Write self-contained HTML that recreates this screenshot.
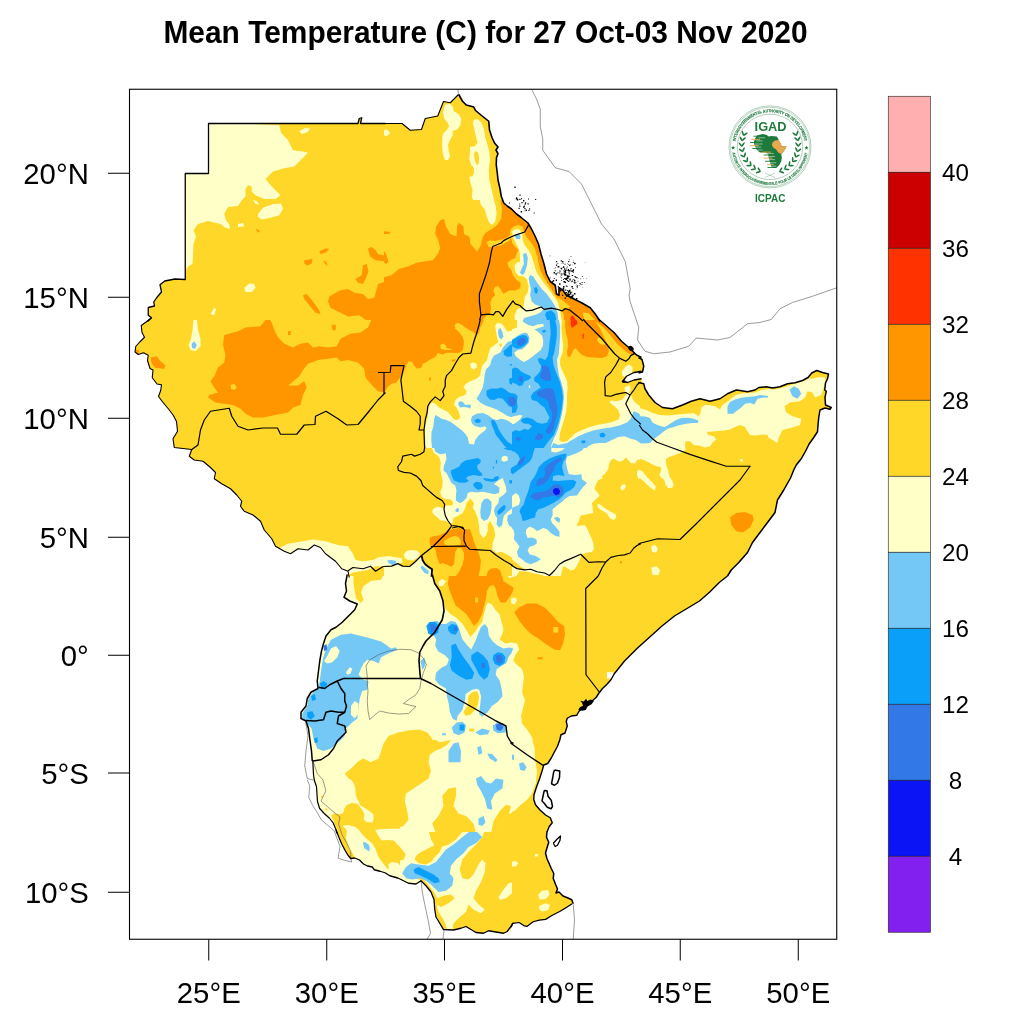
<!DOCTYPE html>
<html><head><meta charset="utf-8"><title>Mean Temperature</title>
<style>
html,body{margin:0;padding:0;background:#fff;}
svg{display:block;font-family:"Liberation Sans",sans-serif;will-change:transform;}
</style></head><body>
<svg width="1024" height="1024" viewBox="0 0 1024 1024">
<rect width="1024" height="1024" fill="#fff"/>
<text x="163.4" y="43.4" textLength="644.2" lengthAdjust="spacingAndGlyphs" font-size="30.6" font-weight="bold" fill="#000">Mean Temperature (C) for 27 Oct-03 Nov 2020</text>
<defs><clipPath id="land"><polygon points="385.5,123.5 360.5,123.5 361.75,117.75 359.25,118.5 358,123.5 208.5,123.5 208.5,173.5 185.25,173.5 185.25,279.5 175,279 164.75,281 160,284.75 161.5,292 157,297.25 153.75,302 154.5,306 148.25,307.5 148.25,315.25 151.5,317.75 147.5,321.5 385.5,321.5"/><polygon points="382.5,123.5 402,123.5 410.25,130.25 421.5,129.5 425.25,118.5 437.75,116 443.5,101.5 450.25,102.75 458.75,94.5 462.5,101.25 466.25,105 473.75,107 475.5,110.5 482.5,116.25 488.75,121.25 489.5,130 492,137.5 494.5,143 498,147 496,150 498,153.75 496.5,157.5 496.25,165 497.25,172.5 498,180 500,188.75 501.25,196.25 503.75,203 507.5,206.25 511.5,209 516.5,214 521.5,217.75 527.75,222.75 531.5,229 535.25,236.5 538.5,244 541,254 544,264 546.5,274 550.25,281.5 555.25,285.25 556.5,294 559,295.25 559,287.75 562.75,290.25 566.5,295.25 574,299 581.5,302.75 590.25,307.75 595.25,314 600.25,321.5 382.5,321.5"/><polygon points="151.5,317.75 146.75,321.5 141.25,325.5 142,332.5 144.5,337.25 139.75,342 135.75,346.5 135,352 138.25,354.5 143.5,352.75 148.25,355.25 147.5,360.5 150,368.5 153,370 152.25,377.75 157,384 161.5,384.75 160.75,390.25 158.5,396.5 163.25,402.75 168.5,409 173.25,415.25 176.5,421.5 177.5,431.25 173,438.75 174.25,447.5 191.75,449.5 189.25,456.25 194.25,460 203,461.25 210.5,467.5 215.5,472.5 214.25,478.75 221.75,483.75 230.5,488.75 236.75,495 241.75,501.25 240.5,506.25 244.25,511.25 253,515 260.5,521.25 264.25,530 271.75,538.75 275.5,546.25 284.25,551.25 290.5,553.75 298,548.75 308,550 314.25,545 320.5,547.5 325.5,553.75 335.5,561.25 341.75,568.75 348,571.25 349.25,577.5 385.5,577.5 385.5,318.5"/><polygon points="597.75,318.5 604,323.75 614,332.5 621.5,341.25 630.25,348.75 636.5,355 641.5,357.5 641.5,371.25 634,372.5 626.5,376.25 622.75,381.25 627.75,382.5 634,380 641.5,378.75 641.5,577.5 382.5,577.5 382.5,318.5"/><polygon points="638.5,357.5 642,359.5 643.75,366.25 642.5,372 638.5,373"/><polygon points="638.5,382.5 643.75,383.75 645,388.75 648.75,395 655,402.5 662.5,407.5 672.5,408.75 682.5,405 691.25,401.25 700,398.75 710,401.25 720,398.75 727.5,393.75 736.25,390 740,390.5 747.5,391.75 755,390 758.75,387.5 766.25,386.75 772.5,388 780,386.75 787.5,383.75 795,382.75 802.5,380.5 808,377.5 811.75,373 816.75,370.5 822.5,372.5 828.5,374 827.5,378.75 825.5,383 824.75,390 826.25,391.25 825,397.5 825.5,405 831.25,407.5 830,409.25 825,408 820,410 818.75,417.5 818,425 817.5,431.75 813.75,437.5 809.25,443.75 805.5,451.25 801.25,458.75 796.25,465 793.75,470 790.5,478 783.75,490 777.5,500 775,512.5 767.5,522.5 760,532.5 752.5,542.5 747.5,552.5 738.75,562.5 731.25,570 727.5,576 638.5,577.5"/><polygon points="347.25,574.5 345.5,583.5 346.5,591 344,597.25 349.75,601 357.25,604 354.75,609.75 348.5,616 342.25,622.25 336,627.25 331,629.75 326,636 323.5,643.5 321.5,651 319.75,661 318.5,671 317.25,681 318,688.5 311,692.25 307.25,698.5 306,706 301,712.25 301,718.5 306,721 308.5,728.5 309.75,738.5 311.5,751 312.75,760.25 313.5,774.5 314.25,780 316.5,786.75 317,794.5 317.5,801.5 319.5,808.25 324.5,813.75 329.25,818 333.25,823 336,829.75 337,833.5 513.5,833.5 513.5,574.5"/><polygon points="727.5,576 719.5,582.25 709.5,592.25 699.5,601 687,608.5 674.5,616 662,626 649.5,637.25 637,648.5 624.5,661 614.5,673.5 610.75,680 606.5,684.75 602.5,688.5 599,693 596.25,697.25 593,700.25 587,704.75 579,711.25 576.75,715.25 571.25,716 567.25,718.25 566.25,721.5 567.25,726 565,733 561,734.75 559.75,740 557.5,746.25 554.5,751.75 551.25,758 547.75,763.5 543.75,765 542,771.25 539.5,779 536.5,787 534,794.75 533.75,799.5 535.5,804.75 540,810 545.5,815 550.25,817.75 552.25,822.75 549.25,826.5 547,832 510.5,833.5 510.5,574.5"/><polygon points="336,829.75 339,837.5 342,844.5 345,850.25 348,855.25 350.75,858.5 354.75,858 359.5,860 363.5,864 367.5,866 372.25,867 374.25,869.75 380,871.25 385,872.75 389.75,875.75 397.75,878 401,879.5 408.5,883.25 416,884 421,880.75 426,885.75 431,892 434,899.5 434.75,909.5 436,917 439.75,923.25 443.5,929.5 453.5,930 461,928.25 466,926.5 471,929.5 476,932.5 483.5,933.25 488.5,930.75 496,932 503.5,933.25 507.25,931.5 510.5,927 512.5,923.5 513.5,923 513.5,830.5"/><polygon points="547,831.5 546.5,837.25 548.75,842.25 547.25,847 545.5,853 547,858.75 549.25,863.75 551.25,868.5 553.75,873.5 553.25,878.5 555.5,884.25 557.5,889 556,893 559,892 563,896 568,898 571.75,899.75 573.25,903.75 572.19,903.75 565.94,907.66 559.69,911.56 551.88,915.47 545.62,919.38 539.38,920.16 533.12,921.72 526.88,926.41 523.75,925.62 519.06,922.5 512.81,923.28 511.25,927.19 510.5,932 510.5,830.5"/></clipPath><clipPath id="t0"><rect x="128" y="64" width="256" height="256"/></clipPath><clipPath id="t1"><rect x="384" y="64" width="256" height="256"/></clipPath><clipPath id="t2"><rect x="600" y="220" width="256" height="256"/></clipPath><clipPath id="t3"><rect x="128" y="320" width="256" height="256"/></clipPath><clipPath id="t4"><rect x="384" y="320" width="256" height="256"/></clipPath><clipPath id="t5"><rect x="640" y="320" width="256" height="256"/></clipPath><clipPath id="t6"><rect x="256" y="576" width="256" height="256"/></clipPath><clipPath id="t7"><rect x="512" y="576" width="256" height="256"/></clipPath><clipPath id="t8"><rect x="540" y="680" width="80" height="80"/></clipPath><clipPath id="t9"><rect x="580" y="300" width="128" height="128"/></clipPath><clipPath id="t10"><rect x="256" y="832" width="256" height="192"/></clipPath><clipPath id="t11"><rect x="430" y="860" width="160" height="160"/></clipPath><clipPath id="t12"><rect x="512" y="832" width="256" height="192"/></clipPath><clipPath id="t13"><rect x="300" y="780" width="100" height="100"/></clipPath><clipPath id="t14"><rect x="470" y="200" width="160" height="160"/></clipPath><clipPath id="t15"><rect x="384" y="320" width="128" height="128"/></clipPath><clipPath id="t16"><rect x="512" y="320" width="128" height="128"/></clipPath><clipPath id="t17"><rect x="384" y="448" width="128" height="128"/></clipPath><clipPath id="t18"><rect x="512" y="448" width="128" height="128"/></clipPath><clipPath id="t19"><rect x="640" y="370" width="128" height="128"/></clipPath><clipPath id="t20"><rect x="400" y="576" width="200" height="164"/></clipPath><clipPath id="t21"><rect x="300" y="780" width="100" height="100"/></clipPath><clipPath id="t22"><rect x="710" y="90" width="128" height="128"/></clipPath><clipPath id="frame"><rect x="129.5" y="89.25" width="707.25" height="850"/></clipPath></defs>
<g clip-path="url(#frame)">
<g clip-path="url(#land)">
<rect x="129" y="89" width="708" height="851" fill="#FFD728"/>
<g clip-path="url(#t0)">
<polygon fill="#FFFFC8" points="203,121.5 279.25,125.25 281,132.75 288,140.25 293,150.25 303,151.5 308,152.75 300.5,160.25 294.25,166.5 283,168.5 273,171.5 265.5,179 271.75,186.5 280.5,195.25 275.5,199 264.25,199 255.5,195.25 251.75,191.5 251.75,186.5 248,185.25 245.5,189 245.5,196.5 241.75,200.25 238,206 228,207 224.25,214 226,220.25 229.25,224 230,229 225.5,227.75 220.5,224 208,221 198,224 193.5,230.25 196,236.5 193.5,244 193,256.5 192.5,264 188,266.5 185.25,271.5 183,271.5 183,121.5"/>
<polygon fill="#FFFFC8" points="258,214 263,207.75 273,204 281,203.5 283,209 279.25,215.25 270.5,217.75 261.75,219.5 258,217"/>
<polygon fill="#FFFFC8" points="299.25,131 305.5,128 310,128.5 308,132 301.75,134"/>
<polygon fill="#FFFFC8" points="238,224 243,223 244.25,226.5 238,227"/>
<polygon fill="#FFFFC8" points="253,200.25 256.75,201 259.25,204.5 255.5,204"/>
<polygon fill="#FFFFC8" points="244.25,287.75 249.25,283.5 254.25,284 255.5,287.75 251.75,292 245.5,292"/>
<polygon fill="#FFFFC8" points="210.5,314 214.25,307.75 216,309 214.25,315.25"/>
<polygon fill="#FF9600" points="255.5,228.5 260,231 258,232.75"/>
<polygon fill="#FF9600" points="304.25,260.25 312.5,259 311.75,263.5 307.5,265.5 304.25,263.5"/>
<polygon fill="#FF9600" points="319.25,251.5 325.5,248.5 329.25,249 325.5,252.75 320.5,254"/>
<polygon fill="#FF9600" points="323.5,260.25 326,261.5 327.5,266 325,264"/>
<polygon fill="#FF9600" points="368,248.5 371.75,247 375.5,250.25 378,254 385.5,256 385.5,261.5 375.5,260.25 370,256.5"/>
<polygon fill="#FF9600" points="363,265.25 366.75,264 368.5,271.5 365.5,279 363,284 358,282.75 355.5,279 361.75,275.25"/>
<polygon fill="#FF9600" points="303,295.25 306.75,294 313,301.5 319.25,310.25 320.5,314 315.5,312.75 309.25,305.25 304.25,299"/>
<polygon fill="#FF9600" points="329.25,296.5 340.5,290.25 348,289 354.25,292.75 363,294 368,299 374.25,297.75 378,284 385.5,281.5 385.5,321.5 368,321.5 359.25,315.25 348,316.5 338,311.5 330.5,307.75 328,301.5"/>
</g>
<g clip-path="url(#t1)">
<polygon fill="#FFFFC8" points="443,112.5 445,105 450,103.75 453,106.75 453.75,111.25 458.75,114.25 461.25,118.75 460.5,125 457.5,129.25 452.5,131.25 453,135 450,140 448,145 448.75,151.25 450,156.25 448,160 445,160 443,155 442.25,147.5 442.25,138.75 443,133.75 446.75,130 449.25,126.25 447.5,122.5 444.25,118.75"/>
<polygon fill="#FFFFC8" points="473.75,120 477.5,119 481.25,122.5 483.75,128.75 485,136.25 487.5,145 489.25,151.25 490,160 488.75,170 489.25,180 491.75,190 493.75,198.75 495.5,208 498.5,211.5 497.75,216.5 494,224 489,222.75 487,214 482.75,209 478.75,208 475,202.5 471.75,197.5 472.5,190 470.5,182.5 469.25,176.75 472.5,176.25 474.25,172.5 473.75,167.5 471.25,165 469.25,158.75 470,152.5 470,146.75 475,146.25 477.5,142.5 475.5,135 474.25,128.75 473,123.75"/>
<polygon fill="#FFD728" points="474,153.75 475.5,151 478,152.5 479,157.5 478.75,163.75 476.75,165 475,161.25"/>
<polygon fill="#FFFFC8" points="382.5,130.25 387,129.5 390.25,132.75 387,136 382.5,135.25"/>
<polygon fill="#FF9600" points="382.5,277.75 391.5,275.25 399,269 407.75,266.5 416.5,262.75 424,261.5 432.75,260.25 437.75,254 440.25,247.75 437.75,239 435.25,234 436,226.5 440.25,220.25 444,219 446,226.5 450.25,234 456.5,236.5 457,226.5 459,222.75 463.5,226.5 464,234 469,236.5 472.75,244 476.5,251.5 480.25,244 481.5,237.75 491.5,229 500.25,221.5 501.5,214 502.75,205.25 514,204 559,239 609,321.5 382.5,321.5"/>
<polygon fill="#FF9600" points="382.5,231 390.25,232 389,234 382.5,234"/>
<polygon fill="#FF9600" points="382.5,248.5 386,254 388.5,261.5 386.5,264 382.5,261.5"/>
</g>
<g clip-path="url(#t3)">
<polygon fill="#FF9600" points="269.25,318.5 271.75,322.5 274.25,330 278,337.5 284.25,343.75 293,347.5 300.5,343.75 308,342.5 313,347.5 319.25,346.25 328,347.5 336.75,346.25 340.5,338.75 350.5,333.75 360.5,332.5 368,327.5 371.75,318.5 385.5,318.5 385.5,392.5 378,391.25 371.75,385 365.5,377.5 364.25,368.75 358,362.5 348,360 340.5,361.25 336.75,357.5 328,358.75 318,360 308,363.75 303,370 299.25,376.25 291.75,382.5 288,385.5 298,385.5 304.25,381.25 306.75,387.5 303,395 300.5,405 293,407.5 288,412.5 275.5,415 263,417.5 253,417.5 245.5,413.75 240.5,408.75 233,405 224.25,403.75 215.5,402.5 208,397.5 209.25,395 218,392.5 214.25,387.5 210.5,381.25 214.25,376.25 218,367.5 224.25,362.5 225.5,355 223,345 224.25,335 238,331.25 245.5,327.5 260.5,326.25 266.75,318.5"/>
<polygon fill="#FFD728" points="230.5,385 234.25,383.75 236.75,387.5 234.25,390 231,388.75"/>
<polygon fill="#FF9600" points="331.75,325 335.5,324.5 336,329.5 332.5,330.5"/>
<polygon fill="#FF9600" points="288,331.25 291,331.25 290.5,335 288,335"/>
<polygon fill="#FF9600" points="150.5,357.5 156.75,356.25 160.5,361.25 165.5,365.5 164.25,368.75 155.5,368 151.75,363.75"/>
<polygon fill="#FF9600" points="135,349 139.25,350.5 138.5,354 135.5,353.5"/>
<polygon fill="#FFFFC8" points="193.5,318.5 196.75,318.5 198,330 200.5,338.75 200.5,346.25 195.5,351.25 190.5,350 188.5,345 191,338.75 192.5,330"/>
<polygon fill="#73C8F5" points="191.75,343.75 194.25,341.25 196.75,345 195,348.75 192,348"/>
<polygon fill="#FFFFC8" points="278,548.75 288,543.75 303,541.25 313,539.5 325.5,541.25 338,545 348,546.25 353,553.75 355.5,560 363,561.25 373,560 378,557.5 385.5,556.25 385.5,566.25 375.5,566.25 368,570 353,572.5 345.5,577.5 278,577.5"/>
</g>
<g clip-path="url(#t5)">
<polygon fill="#FFFFC8" points="766.25,388.75 775,389.5 785,387 795,383.75 805,380.75 812.5,376.25 816.25,373.75 823.75,375.5 825.5,380 823.75,387.5 821.25,395 815,397.5 812.5,392.5 807.5,391.25 805,397.5 800,401.25 790,402.5 784.5,406.25 786.25,412.5 792.5,416.25 801.25,418.75 800,425 792.5,427.5 782.5,430 778.75,437.5 777.5,443 772.5,440 766.25,436.25"/>
<polygon fill="#73C8F5" points="789.5,390 793.75,386.25 798.75,388.75 801.25,393.75 797.5,398.75 792.5,396.25"/>
<polygon fill="#FFFFC8" points="651.25,546.25 655,545 658,548.75 656.25,552.5 652,552"/>
<polygon fill="#FFFFC8" points="651.25,567.5 656.25,566.25 660,570 658.75,575 652.5,575"/>
<polygon fill="#FF9600" points="730,517.5 736.25,513 745,512 752.5,515 753.75,520 750,527.5 742.5,532.5 736.25,531.25 731.25,525"/>
<polygon fill="#FFD728" points="808.75,377 812.5,373 817.5,371 828.75,374 828,378 820,377 815,378 811.25,379"/>
</g>
<g clip-path="url(#t6)">
<polygon fill="#FFFFC8" points="254.5,574.5 513.5,574.5 513.5,833.5 254.5,833.5"/>
<polygon fill="#FFD728" points="353.5,574.5 383.5,574.5 381,579.75 371,581 363.5,586 361,592.25 363.5,599.75 361,603 356,598.5 354.75,591 353.5,583.5"/>
<polygon fill="#FFD728" points="434.75,574.5 513.5,574.5 513.5,643.5 506,644.75 502.25,638.5 503.5,628.5 496,621 491,613.5 486,611 482.25,618.5 484.75,626 478.5,624.75 473.5,632.25 468.5,637.25 463.5,631 458.5,623.5 453.5,619.75 448.5,613.5 446,608.5 443.5,601 441,591 436,583.5"/>
<polygon fill="#FFFFC8" points="439.75,579.75 444.75,579 446.5,584 442.25,586.5"/>
<polygon fill="#FF9600" points="449.75,574.5 513.5,574.5 513.5,594.75 506,601 499.75,599.75 496,593.5 491,591 486,597.25 483.5,606 479.75,616 476,624.75 471,621 467.25,613.5 461,608.5 456,601 453.5,593.5 448.5,586"/>
<polygon fill="#FFD728" points="344.75,773.5 351,768.5 358.5,761 363.5,758.5 371,762.25 378.5,758.5 381,751 383.5,743.5 388.5,736 398.5,732.25 411,731 421,729.75 428.5,732.25 433.5,738.5 439.75,742.25 446,741 451,739.75 447.25,744.75 441,748.5 434.75,751 429.75,754.75 428.5,762.25 431,771 428.5,778.5 421,783.5 413.5,788.5 406,793.5 404.75,801 407.25,811 408.5,819.75 403.5,826 396,828.5 388.5,827.25 381,826 376,831 373.5,822.25 373.5,811 368.5,803.5 361,797.25 356,789.75 354.75,782.25 348.5,778.5"/>
<polygon fill="#FFD728" points="338.5,833.5 342.25,823.5 347.25,816 344,809.75 348.5,804.75 356,804 363.5,809.75 369.75,816 373.5,822.25 371,828.5 373.5,833.5"/>
<polygon fill="#FFD728" points="436,833.5 432.25,823.5 438.5,816 443.5,806 442.25,796 448.5,788.5 456,787.25 456,796 453.5,806 458.5,813.5 466,816 473.5,823.5 476,833.5"/>
<polygon fill="#FFD728" points="491,833.5 493.5,821 499.75,811 506,804.75 511,806 508.5,816 503.5,826 501,833.5"/>
<polygon fill="#FFD728" points="467.25,696 473.5,691 478.5,693.5 478.5,703.5 473.5,711 468.5,716 462.25,716 463.5,708.5 467.25,703.5"/>
<polygon fill="#73C8F5" points="319.75,681 321,671 323,658.5 326,648.5 331,639.75 341,634.75 351,633.5 361,636 371,638.5 381,641.5 386,644.75 391,648.5 396,647.25 397.25,649.75 388.5,653.5 381,657.25 378.5,663.5 373.5,661 367.25,659.75 363.5,663.5 361,668.5 358.5,674.75 363.5,679.75 368.5,681 367.25,689.75 362.25,691 359.75,698.5 358.5,708.5 357.25,718.5 351,723.5 346,728.5 344.75,736 338.5,742.25 331,748.5 323.5,751 317.25,748.5 313.5,738.5 311.5,728.5 307.25,723.5 302.25,718.5 302.25,713.5 307.25,706 308.5,698.5 313.5,692.25 318.5,688.5"/>
<polygon fill="#FFFFC8" points="327.25,656 331,648.5 336,646 339.75,651 337.25,657.25 332.25,662.25 327.25,663.5 324,661"/>
<polygon fill="#FFFFC8" points="346,672.25 349.75,667.25 352.25,668.5 350.5,673.5 347.25,674.75"/>
<polygon fill="#FFFFC8" points="351,706 354.75,701 358.5,703.5 358.5,713.5 354.75,718.5 351,714.75"/>
<polygon fill="#0AA0FA" points="319.75,683.5 323.5,681 327.25,683.5 326,688.5 321.5,689"/>
<polygon fill="#0AA0FA" points="311,696 314.75,694 316,699.75 312.25,701"/>
<polygon fill="#0AA0FA" points="307.25,712.25 312.25,711 314.75,716 311,719.75 307.25,717.25"/>
<polygon fill="#0AA0FA" points="314,738.5 317.25,737.25 318,742.25 314.75,743"/>
<polygon fill="#3278E6" points="323.5,646 326.5,644 327.25,649.75 324,651"/>
<polygon fill="#73C8F5" points="428.5,624.75 436,621 443.5,624.75 451,622.25 458.5,624.75 463.5,632.25 468.5,638.5 474.75,634.75 479.75,627.25 484.75,624.75 488.5,629.75 489.75,638.5 496,644.75 503.5,648.5 507.25,656 506,663.5 499.75,667.25 496,673.5 499.75,681 503.5,688.5 502.25,698.5 497.25,703.5 492.25,708.5 486,716 479.75,718.5 479.75,703.5 478.5,692.25 472.25,689.75 467.25,696 463.5,706 461,714.75 456,721 451,718.5 448.5,711 449.75,701 446,693.5 441,688.5 436,681 434.75,672.25 439.75,666 448.5,663.5 449.75,656 446,648.5 439.75,642.25 434.75,637.25 431,632.25"/>
<polygon fill="#FFFFC8" points="464.75,701 468.5,693.5 474,689 479.75,691.5 481,703.5 476,713.5 469.75,719 462.25,719 461.5,711"/>
<polygon fill="#FFD728" points="467.25,696 473.5,691.5 478,694 478,703.5 473.5,711 468.5,716 463.5,716 464,708.5 467.25,703.5"/>
<polygon fill="#0AA0FA" points="449.75,644.75 454.75,643.5 461,651 467.25,658.5 473.5,668.5 474.75,676 469.75,679.75 462.25,676 454.75,672.25 449.75,667.25 451,658.5"/>
<polygon fill="#0AA0FA" points="471,656 477.25,651 483.5,653.5 489.75,659.75 488.5,668.5 486,676 481,677.25 476,671 472.25,663.5"/>
<polygon fill="#3278E6" points="481,662.25 484.75,662.25 484.75,667.25 481,667.25"/>
<polygon fill="#0AA0FA" points="493.5,656 497.25,652.25 502.25,653 505.5,657.25 503.5,663 498.5,664.75 494,662.25"/>
<polygon fill="#3278E6" points="496,657.25 499.75,654.75 503,658 501,662.25 497.25,662.25"/>
<polygon fill="#0AA0FA" points="427.25,624.75 431,621.75 437.25,622.25 439.75,627.25 436,633.5 431,636 427.25,632.25"/>
<polygon fill="#3278E6" points="432.25,626 436.5,624.75 438,629 434,631.5"/>
<polygon fill="#0AA0FA" points="448.5,626 453.5,623.5 458,627.25 456,633.5 451,634.75 448.5,631"/>
<polygon fill="#3278E6" points="452.25,627.25 456,627.25 456,631 452.25,631"/>
<polygon fill="#73C8F5" points="453.5,726 458.5,722.25 464.75,723.5 466,729.75 461,734.75 454.75,734.75 451,731"/>
<polygon fill="#0AA0FA" points="459,725.5 463.5,725.5 463.5,729.75 459,729.75"/>
<polygon fill="#73C8F5" points="492.25,726 496,722.25 503.5,723.5 506,728.5 501,733.5 493.5,732.25"/>
<polygon fill="#3278E6" points="496,724.75 502.25,724.75 502.25,729.75 496,729.75"/>
<polygon fill="#73C8F5" points="474.75,731 481,728.5 491,731 488.5,734.75 478.5,736"/>
<polygon fill="#73C8F5" points="448.5,751 453.5,743.5 458.5,742.25 461,751 460.5,762.25 448.5,762.25"/>
<polygon fill="#73C8F5" points="477.25,747.25 481,746 482.25,753.5 478.5,754.75"/>
<polygon fill="#73C8F5" points="487.25,753.5 492.25,754 497.25,759.75 496,762.25 489.75,758.5"/>
<polygon fill="#73C8F5" points="476,778.5 481,776 486,782.25 491,783.5 496,778.5 503.5,779.75 502.25,788.5 494.75,793.5 491,801 492.25,809.75 487.25,808.5 484.75,798.5 481,791 477.25,784.75"/>
<polygon fill="#73C8F5" points="478.5,818.5 483.5,816 485.5,822.25 482.25,826 478.5,824.75"/>
<polygon fill="#FFD728" points="513.5,812.25 507.25,814.75 503.5,823.5 501,833.5 513.5,833.5"/>
</g>
<g clip-path="url(#t7)">
<polygon fill="#FFFFC8" points="510.5,642.25 517,643 519.5,651 515.75,658.5 512,663.5 519.5,667.25 523.25,676 522,688.5 520.75,701 523.25,711 522,721 527,728.5 532,738.5 534.5,748.5 535,758.5 537,771 535.75,783.5 532,793.5 527,799.75 520.75,804.75 514.5,811 510.5,812.25"/>
<polygon fill="#FFFFC8" points="512,598.5 517,598 517.5,602.25 513.25,603.5"/>
<polygon fill="#FFFFC8" points="537,574.5 557,574.5 555.75,578 542,577.25"/>
<polygon fill="#FF9600" points="514.5,612.25 522,606 530.75,603 539.5,604.75 547,609.75 553.25,616 558.25,622.25 563.25,626 564.5,636 563.25,646 558.25,651 552,648.5 545.75,643.5 538.25,639.75 532,636 527,629.75 522,624.75 519.5,618.5"/>
<polygon fill="#FFD728" points="553.25,627.25 558.25,628.5 558.25,633.5 554,633"/>
<polygon fill="#FF9600" points="538.25,657.25 542.5,657.25 542.5,659.25 538.25,659.25"/>
<polygon fill="#FF9600" points="510.5,586 514,586.5 514,591 510.5,591"/>
<polygon fill="#73C8F5" points="519,763.5 523.25,762.25 526.5,767.25 524.5,771 520,769.75"/>
<polygon fill="#73C8F5" points="510.5,647.25 514,647.25 514,651 510.5,651"/>
<polygon fill="#73C8F5" points="510.5,754.75 514,754.75 514,759.75 510.5,759.75"/>
<polygon fill="#fff" points="607,672.25 613.25,672.25 613.25,678.5 607,678.5"/>
</g>
<g clip-path="url(#t10)">
<polygon fill="#FFFFC8" points="254.5,830.5 513.5,830.5 513.5,1032 254.5,1032"/>
<polygon fill="#FFD728" points="335.5,830.5 342.25,830.5 346.5,842 350.5,852 353,858.25 350.5,858 346,850.75 342.25,843.25 338.5,835.75"/>
<polygon fill="#FFD728" points="359.75,830.5 366,837 372.25,842 376,849.5 378.5,857 386,860.75 396,862 403.5,859.5 406,854.5 401,848.25 396,842 388.5,840.75 381,838.25 376,833.25 374.75,830.5"/>
<polygon fill="#FFD728" points="416,855.75 421,852 428.5,848.25 436,844.5 442.25,845.75 439.75,852 434.75,857 431,862 426,864.5 418.5,863.25 414.75,859.5"/>
<polygon fill="#FFD728" points="428.5,830.5 463.5,830.5 456,839.5 448.5,844.5 441,847 434.75,845.75 431,839.5"/>
<polygon fill="#FFD728" points="482.25,837 476,844.5 468.5,852 462.25,859.5 459.75,869.5 462.25,878.25 468.5,879.5 473.5,874.5 478.5,864.5 482.25,859.5 485.5,863.25 484.75,872 481,882 476,890.75 473.5,898.25 478.5,904.5 484.75,909.5 481,913.25 473.5,909.5 468.5,904.5 466,912 458.5,918.25 453.5,923.25 452.25,930 513.5,937 513.5,830.5 484.75,830.5"/>
<polygon fill="#FFFFC8" points="498.5,897 503.5,889.5 508.5,883.25 513.5,882 513.5,892 506,898.25 499.75,900"/>
<polygon fill="#FFD728" points="416,878.25 422.25,880.75 428.5,888.25 432.25,894.5 434.75,904.5 436,914.5 439.75,922 443.5,929.5 447.25,929.5 443.5,919.5 438.5,912 436.5,904.5 441,907 448.5,903.25 454.75,898.25 451,894.5 443.5,895.75 437.25,898.25 434.75,893.25 431,888.25 426,882 421,877"/>
<polygon fill="#73C8F5" points="402.25,873.25 406,867 411,863.25 418.5,864.5 428.5,865.75 436,862 441,855.75 446,849.5 453.5,844.5 461,838.25 467.25,833.25 471.5,830.5 476,831 482.25,837 476,843.25 468.5,847 463.5,853.25 456,859.5 451,865.75 449.75,873.25 453.5,878.25 452.25,885.75 446,890.75 438.5,892 432.25,885.75 426,880.75 419.75,878.25 412.25,879.5 406,878.25"/>
<polygon fill="#0AA0FA" points="413.5,869.5 418.5,867 426,870.75 433.5,874.5 438.5,878.25 439.75,882 434.75,883.25 428.5,879.5 421,875.75 414.75,873.25"/>
<polygon fill="#73C8F5" points="363,843.25 367.25,842 369.75,847 368.5,851.5 364.75,849.5"/>
</g>
<g clip-path="url(#t12)">
<polygon fill="#FFFFC8" points="510.5,862 515.75,860.75 518.25,863.25 515.75,866.5 510.5,866.5"/>
<polygon fill="#FFFFC8" points="538.25,894.5 542,890.75 548.25,890 549.5,894.5 545.75,899 539.5,899.5"/>
<polygon fill="#FFFFC8" points="539.5,905.75 545.75,903.25 550,905 548.25,910 542,911.5 539,909"/>
<polygon fill="#FFFFC8" points="535,854 538.25,854 538.25,856.5 535,856.5"/>
</g>
<g clip-path="url(#t14)">
<polygon fill="#FF9600" points="470,200 630,200 630,360 470,360"/>
<polygon fill="#FFD728" points="469.22,199.22 500.47,199.22 502.03,209.38 501.25,218.75 497.34,225 491.88,228.91 485.62,232.81 482.5,237.5 480.94,245.31 477.03,251.56 473.12,246.88 469.22,242.19"/>
<polygon fill="#FFFFC8" points="479.38,199.22 493.44,199.22 495.78,206.25 496.56,214.06 495,221.88 491.88,225 488.75,221.88 486.41,215.62 484.84,209.38 480.94,204.69"/>
<polygon fill="#FFD728" points="486.41,242.19 490.31,240.31 495,240.94 501.25,239.84 507.5,237.5 510.94,233.59 509.84,240.62 501.25,245.31 491.88,246.88 488.75,246.88"/>
<polygon fill="#FFD728" points="510.94,228.91 513.75,226.56 518.44,225 522.34,226.56 523.91,230.47 526.25,236.72 530.94,242.19 534.84,248.44 537.19,256.25 538.75,264.06 540.31,270.31 543.44,276.56 547.34,282.81 551.25,289.06 555.16,295.31 559.06,300 562.19,307.81 563.75,315.62 564.53,325 565.31,334.38 565.62,343.75 566.09,353.12 566.88,360.94 474.69,360.94 477.03,348.44 479.38,337.5 481.72,328.12 483.28,318.75 485.62,316.41 490.31,312.5 491.09,307.81 490.31,303.12 491.88,298.44 495,295.31 493.44,290.62 495,286.72 498.12,285.94 500.47,289.06 503.59,293.75 509.06,290.62 515.31,290.62 520,288.28 520.78,282.81 516.88,280.47 512.97,275 511.41,270.31 508.28,266.41 507.5,262.5 510.62,260.16 515.31,257.81 516.88,253.12 518.44,250 515.31,246.88 512.19,242.97 510.94,237.5 509.84,232.81"/>
<polygon fill="#FFFFC8" points="512.19,231.25 515.31,228.91 520,229.69 522.34,233.59 522.34,239.06 524.69,245.31 528.59,250 531.72,256.25 534.06,264.06 536.41,271.88 540.31,278.12 545,284.38 549.69,290.62 554.38,296.88 557.5,301.56 559.84,309.38 561.41,318.75 562.19,329.69 562.97,340.62 563.44,350 563.75,360.94 488.75,360.94 487.97,354.69 491.88,350 495.78,345.31 497.34,340.62 495,334.38 495.78,326.56 499.69,323.44 503.59,325 506.72,329.69 509.06,334.38 513.75,331.25 515.31,323.44 514.53,315.62 516.88,309.38 520,307.81 523.12,309.38 523.91,303.12 524.69,296.88 527.81,292.19 528.59,285.94 527.03,279.69 523.91,276.56 518.44,275.78 515.31,271.88 514.53,265.62 516.88,262.5 520,261.72 520,256.25 519.22,250 516.88,245.31 514.53,240.62 512.5,235.94"/>
<polygon fill="#73C8F5" points="514.53,235.16 517.66,234.06 520.78,235.94 520,239.06 516.09,239.06"/>
<polygon fill="#73C8F5" points="523.12,253.91 526.25,253.12 527.81,257.81 527.03,265.62 524.69,272.66 522.34,275 520,272.66 521.56,268.75 523.91,264.06 523.44,258.59"/>
<polygon fill="#73C8F5" points="530.16,275 533.28,276.56 537.19,282.81 541.88,289.06 546.56,293.75 551.25,300 555.16,306.25 557.5,312.5 558.28,320.31 559.06,329.69 559.84,340.62 559.84,350 560.62,360.94 491.88,360.94 495.78,354.69 502.81,350 507.5,343.75 513.75,337.5 520,333.59 526.25,332.81 529.38,337.5 528.59,343.75 524.69,348.44 516.88,350 514.53,354.69 516.88,357.03 523.12,356.25 527.81,358.59 532.5,356.25 538.75,357.81 543.44,353.12 542.66,343.75 538.75,337.5 540.31,332.81 537.19,329.69 532.5,328.12 527.81,325 523.12,321.09 523.91,317.97 529.38,316.41 535.62,314.84 540.31,312.5 543.44,309.38 540.31,306.25 535.62,304.69 531.72,301.56 530.16,295.31 530.94,289.06 529.38,282.81 528.59,278.12"/>
<polygon fill="#FFFFC8" points="533.28,325 540.31,323.44 544.22,325 541.09,328.91 535.62,329.69"/>
<polygon fill="#73C8F5" points="498.91,329.69 500.47,328.12 502.03,332.81 503.59,337.5 501.25,339.06 498.91,335.94"/>
<polygon fill="#0AA0FA" points="534.06,288.28 536.41,286.72 537.97,290.62 536.88,293.75 534.84,292.97"/>
<polygon fill="#0AA0FA" points="546.56,311.72 551.25,310.16 555.16,314.06 556.72,321.88 556.72,332.81 555.94,343.75 554.38,353.12 553.59,360.94 546.56,360.94 548.12,353.12 549.69,345.31 550.47,337.5 548.91,331.25 548.12,325 546.56,318.75 545,314.84"/>
<polygon fill="#0AA0FA" points="512.97,339.06 518.44,334.38 524.69,332.81 528.59,335.94 527.81,342.19 523.91,346.09 517.66,347.66 513.75,346.09 512.19,350 507.5,354.69 503.59,357.81 502.81,353.91 507.5,346.88 510.94,342.97"/>
<polygon fill="#0AA0FA" points="542.19,330.47 544.69,329.69 545,332.81 542.66,332.81"/>
<polygon fill="#3278E6" points="516.88,339.06 520,336.72 523.91,337.5 525.94,339.84 524.69,342.97 520.78,345.31 516.88,344.53 515.62,341.41"/>
<polygon fill="#FF3200" points="570.78,316.41 573.12,315.62 577.81,323.44 573.91,326.56 570.78,328.91 570,323.44"/>
<polygon fill="#FF3200" points="582.5,334.38 584.06,333.59 583.75,338.28 582.19,339.06"/>
<polygon fill="#FFD728" points="557.5,296.88 563.75,301.56 570,306.25 566.88,309.38 562.19,307.81"/>
<polygon fill="#FFD728" points="582.5,312.5 588.75,313.28 595,320.31 601.25,328.12 607.5,334.38 615.31,342.19 621.56,348.44 630.94,353.91 630.94,360.94 620,360.94 613.75,353.12 609.06,346.88 604.38,340.62 599.69,334.38 595,328.12 588.75,323.44 584.06,318.75"/>
<polygon fill="#FFD728" points="595,337.5 599.69,335.94 605.94,340.62 609.06,348.44 607.5,356.25 602.81,356.25 598.12,350 596.56,343.75"/>
<polygon fill="#FFD728" points="576.25,356.25 582.5,355.47 584.06,360.94 576.25,360.94"/>
</g>
<g clip-path="url(#t15)">
<polygon fill="#FFD728" points="383.25,319.25 512.75,319.25 512.75,448.75 383.25,448.75"/>
<polygon fill="#FF9600" points="383.25,319.25 484,319.25 482.75,322.5 480.25,327.5 479,332.5 477.12,335.62 473.38,331.88 470.25,330.62 465.25,327.5 461.5,324.38 457.75,322.75 454.62,325 455.25,328.75 459,331.88 462.12,336.25 464,341.25 463.38,346.88 462.12,351.25 457.75,353.12 451.5,352.75 446.5,352.75 442.75,354.38 437.75,353.12 435.25,356.88 430.25,359.38 426.5,361.88 422.75,363.75 421.5,367.5 417.12,368.75 414,365.62 412.12,361.88 408.38,361.25 406.5,365 404.62,370 402.75,375 399,378.75 396.5,382.5 391.5,383.75 388.38,386.25 385.88,390 384,393.75 383.25,393.75"/>
<polygon fill="#FFD728" points="440.25,345 443.38,343.5 445.88,345.62 446.5,348.12 451.5,349 451.5,350 445.25,350 440.88,349"/>
<polygon fill="#FF9600" points="451.5,360 455.88,359 454.62,361.25 452.12,361.88"/>
<polygon fill="#FF9600" points="429,378.12 430.88,376.88 430.88,380.62 429.25,380.62"/>
<polygon fill="#FFFFC8" points="512.75,330.62 507.12,331.5 504.62,327.5 501.5,323.5 497.12,323.12 495.25,325.62 495.88,331.25 497.12,337.5 498.38,341.88 494.62,345 490.25,348.12 488.38,353.75 487.12,360 482.75,365 480.88,370 480.25,375.62 476.5,378.75 470.25,381.25 465.88,383.75 463.38,386.88 466.5,391.25 465.25,395 459,396.88 455.25,400 454,405 456.5,407.5 459,412.5 460.25,417.5 457.75,420 454,419.38 450.88,415.62 447.75,411.88 444,410 439,407.5 435.25,403.75 432.12,402.5 429.62,405 428.38,410 427.75,416.25 425.88,423.75 424.62,430 425.25,438.75 425.88,448.75 512.75,448.75"/>
<polygon fill="#FFFFC8" points="470.25,363.75 473.38,362.25 476.5,364 476.75,367.5 474,369.38 470.88,368.12"/>
<polygon fill="#FFD728" points="499,343.75 501.5,343.5 502.12,345.62 500.25,346.88"/>
<polygon fill="#73C8F5" points="512.75,340.62 507.75,341.88 503.38,346.88 500.25,352.5 494,355.62 491.5,360 490.25,365 485.88,369.38 484.62,375 484,381.25 482.75,387.5 479.62,393.75 476.5,398.75 480.25,402.5 485.25,405.62 491.5,407.5 496.5,409.38 502.75,413.12 507.75,416.25 512.75,417.5"/>
<polygon fill="#73C8F5" points="498.38,329.38 500.25,328.12 502.12,331.25 503.38,336.25 501.5,339.38 499,337.5 498,333.12"/>
<polygon fill="#73C8F5" points="458.38,402.5 460.88,401 463.38,402.5 465.25,405 469,404.38 470.88,405 470.25,408.75 467.75,407.5 464,406.88 460.25,407.5 458.38,405"/>
<polygon fill="#73C8F5" points="432.12,448.75 431.25,440 431.5,432.5 433.38,426.25 434,420 435.25,415 437.75,416.25 441.5,418.75 446.5,420 451.5,422.5 456.5,426.25 461.5,430 465.25,433.75 467.75,437.5 469,443.75 474,444.38 475.25,440 479,435 484,431.25 486.5,428.75 485.25,426.25 480.25,427.5 475.25,426.25 472.12,423.75 470.88,420 472.12,416.25 476.5,413.75 482.75,413.12 487.75,415 492.75,418.75 496.5,420 501.5,418.75 506.5,420 512.75,423.75 512.75,448.75"/>
<polygon fill="#0AA0FA" points="490.88,420.62 494,420 496.5,423.75 498.38,428.75 500.88,433.12 504,437.5 507.75,441.88 512.75,445 512.75,448.75 507.12,448.75 502.75,443.75 499,438.75 495.88,435 494,430 491.75,425"/>
<polygon fill="#0AA0FA" points="474.62,420 477.75,418.75 480.88,420 480.25,422.5 477.12,423.12 475,421.88"/>
<polygon fill="#0AA0FA" points="503.38,351.25 507.12,348.12 510.25,345 512.75,343.75 512.75,356.25 507.75,356.88 504,355"/>
<polygon fill="#0AA0FA" points="486.5,390.62 491.5,388.5 496.5,388.75 501.5,387.5 505.25,389.38 509,392.5 512.75,393.75 512.75,407.5 509,406.25 505.88,402.5 502.75,398.75 498.38,398.12 494,400 489.62,399.38 486.5,395.62"/>
<polygon fill="#3278E6" points="508.38,397.5 512.75,396.88 512.75,406.25 509.62,405 508,401.25"/>
<polygon fill="#0AA0FA" points="509,378.75 512.75,377.5 512.75,385 509.62,383.75"/>
<polygon fill="#0AA0FA" points="509.62,364.38 512.75,363.75 512.75,365.62 509.62,365.62"/>
</g>
<g clip-path="url(#t16)">
<polygon fill="#FFD728" points="511.25,319.25 640.75,319.25 640.75,448.75 511.25,448.75"/>
<polygon fill="#FFFFC8" points="511.25,319.25 562,319.25 561.38,327.5 562,336.25 563.25,345 562.62,352.5 560.12,358.75 560.12,365 562,370 564.5,375 567,381.25 567.62,387.5 567,395 567,402.5 566.38,410 564.5,418.75 562,426.25 560.12,432.5 559.25,440 562,441.88 567,441.25 570.75,437.5 575.75,433.12 582,430 589.5,426.88 597,425 604.5,423.75 612,421.88 618.25,419.38 620.12,415.62 618.25,410 614.5,406.25 609.5,402.5 610.75,400.62 615.75,401.25 622,400 624.5,396.25 627,393.75 630.12,393.12 631.38,396.25 633.88,401.25 638.25,405 640.75,406.25 640.75,448.75 511.25,448.75"/>
<polygon fill="#FFFFC8" points="622,371.25 625.75,366.25 629.5,364.38 632.62,367.5 632,372.5 628.25,376.25 624.5,376.88 622,375"/>
<polygon fill="#FFFFC8" points="624.5,387.5 629.5,385 630.75,390 628.25,393.75 625.12,391.88"/>
<polygon fill="#73C8F5" points="511.25,319.25 558.88,319.25 560.12,326.25 560.12,335 559.5,345 558.88,353.75 557,360 557.62,367.5 558.88,375 561.38,382.5 563.25,390 563.88,397.5 563.25,406.25 562,413.75 560.12,421.25 558.25,428.75 555.75,435 553.25,440 551.38,445 550.75,448.75 511.25,448.75"/>
<polygon fill="#FFFFC8" points="522.62,319.25 523.25,321.88 528.25,325 533.25,326.25 537.62,324.38 543.25,323.75 543.88,326.25 538.88,328.12 534.5,329.38 538.25,331.88 542,335.62 543.25,340.62 543,345.62 540.75,350 536.38,353.5 532,356.88 528.25,359.75 523.88,361.88 520.12,359.75 515.75,356.25 514.25,352.75 517.62,350 522,349.38 525.75,346.25 528.88,342.5 529.5,338.12 527.62,333.75 524.5,332.5 520.75,334 517,336.25 513.25,338.75 511.25,340 511.25,319.25"/>
<polygon fill="#FFD728" points="511.25,319.25 517,319.25 517,327.5 511.25,329.38"/>
<polygon fill="#FFFFC8" points="511.25,416.88 519.5,415 522.62,415.62 519.5,420 514.5,423.75 511.25,424.38"/>
<polygon fill="#FFFFC8" points="528.88,385.62 530.12,385.62 530.12,388.12 528.88,388.12"/>
<polygon fill="#0AA0FA" points="514.5,338.75 518.25,336.25 522.62,335 526.38,335.62 528.25,338.75 527.62,342.5 524.5,345.62 520.75,348.12 517,348.75 513.25,346.88 511.25,345 511.25,340.62"/>
<polygon fill="#3278E6" points="517.62,340 520.75,338.12 524.5,338.12 526,340.62 524.5,343.75 521.38,345.62 518.25,345 517,342.5"/>
<polygon fill="#0AA0FA" points="549.5,319.25 555.12,319.25 556.75,327.5 556.75,336.25 555.5,345 554.25,352.5 552.62,357.5 553.25,363.75 555.12,370 557.62,376.25 560.12,382.5 562,390 563,397.5 562,406.25 560.75,413.75 558.88,421.25 556.38,428.75 553.88,435 549.5,440 545.75,445 543.25,448.75 511.25,448.75 511.25,432.5 515.75,430 519.5,431.25 524.5,428.75 528.25,430 532,426.25 528.25,423.75 524.5,423.75 520.75,421.25 522,418.75 527,417.5 532,418.75 537,422.5 542,423.75 547,422.5 549.5,417.5 547,412.5 544.5,407.5 540.75,405 537,401.25 532,400 530.75,396.25 533.25,392.5 537,390 540.75,387.5 538.25,383.75 534.5,381.25 533.88,378.12 537,375 540.12,371.25 541.38,366.25 538.88,362.5 537.62,358.75 540.75,358.12 545.12,360 547.62,356.25 548.88,350 549.5,342.5 550.75,333.75 550.12,326.25"/>
<polygon fill="#0AA0FA" points="511.25,369.38 514.5,367.5 517.62,368.12 520.75,371.25 525.12,373.75 529.5,375.62 531.38,377.5 528.25,380 524.5,381.25 522.62,385 519.5,386.25 515.75,383.75 512,382.5 511.25,382.5"/>
<polygon fill="#3278E6" points="518.88,376.88 521.38,376 523.25,378.12 522.62,381 520.12,381.5 518.5,379.38"/>
<polygon fill="#0AA0FA" points="511.25,393.12 515.12,393.75 517.62,396.25 517,401.25 517.62,407.5 515.75,412.5 511.25,413.12"/>
<polygon fill="#3278E6" points="511.25,396.88 514.5,397.5 516.38,401.25 515.12,405.62 511.25,406.25"/>
<polygon fill="#0AA0FA" points="542,330.62 545.12,329.75 546,331.88 543.25,332.75"/>
<polygon fill="#3278E6" points="541.38,366.25 545.12,365 548.88,367.5 550.12,372.5 551.38,378.75 549.5,381.25 545.12,380.62 542,378.75 539.5,376.88 541.38,372.5 542.62,369.38"/>
<polygon fill="#3278E6" points="537,392.5 540.75,390 545.75,388.5 550.75,388.12 553.88,390.62 555.12,396.25 556.38,402.5 557.62,407.5 557,415 555.12,421.25 553.88,427.5 551.38,432.5 548.25,434.38 545.75,431.88 547.62,427.5 550.12,423.75 552,418.75 552,412.5 549.5,407.5 548.25,401.25 544.5,398.75 540.12,396.88 537,395"/>
<polygon fill="#3278E6" points="535.12,436.88 538.88,433.12 543.25,435 542.62,438.75 538.25,440 535.12,439.38"/>
<polygon fill="#3278E6" points="515.75,438.12 518.88,436.88 521.38,438.75 519.5,440.62 516.38,440.62"/>
<polygon fill="#73C8F5" points="550.75,448.75 553.25,443.12 558.25,445 567,443.12 572,440 578.25,436.25 585.75,433.12 593.25,430.62 602,428.75 610.75,427.5 619.5,425.62 627,422.5 630.75,418.75 632,415 633.88,411.25 638.25,413.12 640.75,415 640.75,443.12 635.75,440 630.75,438.75 624.5,436.25 618.25,436.88 612,440 605.75,443.12 599.5,443.12 593.25,443.75 588.25,446.25 585.75,448.75"/>
<polygon fill="#0AA0FA" points="599.5,433.75 603.25,432.5 605.75,435 603.88,437.5 600.12,436.88"/>
<polygon fill="#0AA0FA" points="580.75,441.25 584.5,440 585.75,442.5 582.62,443.75"/>
<polygon fill="#FF9600" points="565.12,319.25 594.5,319.25 597,323.75 599.5,327.5 602,332.5 604.5,338.75 608.25,345 608.88,351.25 607,356.25 602,358.12 593.25,357.5 587,356.88 582,355 578.25,351.25 575.75,348.12 573.25,350 570.75,356.25 567.62,356.88 567,351.25 568.25,346.25 567.62,338.75 565.75,332.5 565.12,326.25"/>
<polygon fill="#FFD728" points="597,338.75 599.5,337.5 604.5,341.25 605.12,344.38 601.38,344.38 598.25,342.5"/>
<polygon fill="#FF3200" points="570.75,319.25 576.38,319.25 577.62,323.75 574.5,326.25 572,328.12 570.75,325"/>
<polygon fill="#FF3200" points="582.62,333.75 583.88,333.75 583.5,338.75 582.25,338.75"/>
<polygon fill="#FF9600" points="593.25,319.25 602,319.25 607,323.75 612,327.5 617,333.75 620.75,340 625.75,345 630.75,349.38 635.75,352.5 637,355 632,355 627,352.5 622,348.12 617,343.75 612,337.5 607,331.25 602,326.25 597,322.5"/>
</g>
<g clip-path="url(#t17)">
<polygon fill="#FFD728" points="383.25,447.25 512.75,447.25 512.75,576.75 383.25,576.75"/>
<polygon fill="#FFFFC8" points="431.5,447.25 434,453 439,456.75 440.88,463 440.25,469.25 441.5,475.5 442.75,481.75 442.12,488 440.25,491.75 441.5,496.75 445.25,499.25 450.25,499.25 453.38,503 452.12,505.5 446.5,505.5 442.75,508 437.75,506.75 433.38,508.62 432.12,511.75 434.62,515.5 437.75,517.38 440.25,520.5 445.25,520.5 449,523 452.75,523 453.38,518 457.75,516.12 462.75,513 465.25,508 466.5,503 470.25,498.62 474,503 472.75,508 475.25,511.75 477.75,518 479,525.5 479.62,533 483.38,538 485.88,535.5 487.75,530.5 487.75,524.25 490.25,521.12 494,528 495.25,535.5 492.75,543 492.12,549.25 496.5,553 501.5,551.75 506.5,554.25 512.75,558 512.75,447.25"/>
<polygon fill="#FFFFC8" points="383.25,556.75 389,556.12 396.5,557.38 401.5,558 402.75,562.38 397.75,563.62 391.5,566.12 383.25,566.5"/>
<polygon fill="#FFFFC8" points="404,554.25 406.5,551.12 411.5,549.88 416.5,550.5 420.25,553.62 417.75,558 412.75,560.5 407.75,559.88 404.62,558"/>
<polygon fill="#FFFFC8" points="383.25,565.5 397.75,563.62 402.75,566.12 409.62,566.5 415.25,561.75 421.5,555.5 422.75,560.5 425.25,564.25 432.12,569.25 431.5,576.75 383.25,576.75"/>
<polygon fill="#73C8F5" points="387.12,560.5 391.5,559.88 395.88,561.12 396.5,563.62 392.75,564.88 389,563.62"/>
<polygon fill="#73C8F5" points="420.25,566.75 422.75,566.12 426.5,569.25 429,571.75 427.75,574.25 424.62,573 422.12,569.88"/>
<polygon fill="#73C8F5" points="434,447.25 435.25,451.75 440.25,454.25 445.88,453.62 446.5,459.25 444,465.5 443.38,470.5 446.5,473 449,478 451.5,483 455.25,485.5 456.5,490.5 455.88,495.5 455.88,500.5 459.62,503 462.75,501.75 466.5,498 467.75,493 471.5,491.75 476.5,492.38 482.75,491.75 489,493 494,494.25 499,493 499.62,488 496.5,485.5 494,484.25 496.5,481.75 500.25,479.25 502.75,478 504,481.75 505.88,486.75 506.5,491.75 502.75,495.5 499,498 498.38,503 495.25,506.75 494,510.5 495.25,515.5 497.12,518 496.5,524.25 499,527.38 502.12,525.5 502.75,520.5 504,515.5 507.75,511.75 512.75,508 512.75,447.25"/>
<polygon fill="#FFFFC8" points="501.5,457.38 504,455.75 507.75,456.75 507.75,460.5 504,461.75 501.5,460.5"/>
<polygon fill="#73C8F5" points="481.5,503 484,499.25 487.75,498.62 491.5,501.75 491.5,508 490.25,514.25 487.75,519.25 484,521.12 480.88,518 480.25,511.75 480.88,506.75"/>
<polygon fill="#73C8F5" points="507.75,515.5 512.75,513 512.75,528 509,525.5 507.12,520.5"/>
<polygon fill="#73C8F5" points="455.25,509.88 457.12,508 459,508.62 458.75,511.75 455.88,512"/>
<polygon fill="#0AA0FA" points="450.88,470.5 455.25,468.62 459,466.75 461.5,463 465.25,460.5 471.5,459.25 477.75,458 480.88,459.88 480.25,463 477.12,465.5 477.75,469.25 481.5,473 482.75,475.5 479,476.12 474,474.88 469,476.12 465.88,478 469,481.12 465.25,482.75 459,482.38 454,480.5 452.12,476.75 450.88,473"/>
<polygon fill="#0AA0FA" points="473.38,483.62 476.5,481.75 480.88,482.38 482.75,485.5 482.12,488.62 478.38,489.88 475.25,488 473.38,485.5"/>
<polygon fill="#0AA0FA" points="483.38,478 487.75,478.62 492.75,479.25 495.25,476.75 498.38,476.12 499,478.62 496.5,481.12 491.5,481.75 486.5,481.12 484,479.88"/>
<polygon fill="#0AA0FA" points="497.12,511.75 500.25,508 504,504.88 505.88,506.12 504.62,509.88 501.5,513 498.38,514.88"/>
<polygon fill="#0AA0FA" points="504,447.25 512.75,447.25 512.75,450.5 507.75,449.88 504,448.62"/>
<polygon fill="#0AA0FA" points="510.88,468 512.75,467.38 512.75,473.62 510.88,473"/>
<polygon fill="#0AA0FA" points="509,480.5 512.75,479.88 512.75,483.62 509.62,483.62"/>
<polygon fill="#0AA0FA" points="492.75,466.75 494,466.75 494,468.62 492.75,468.62"/>
<polygon fill="#0AA0FA" points="495.88,459.88 497.12,459.88 497.12,463.62 495.88,463.62"/>
<polygon fill="#FF9600" points="429.62,538 434,536.12 439,535.5 444,533 449,530.5 452.12,529.25 459,528 464,529.25 470.25,529.25 472.12,535.5 474,541.75 476.5,548 479,554.25 480.88,560.5 480.25,568 478.38,576.75 455.25,576.75 459,571.75 462.12,565.5 464,559.25 464,553 461.5,548 457.75,548 455.25,551.75 454.62,558 454,564.25 451.5,566.75 447.75,564.88 442.75,563 439.62,564.25 438.38,560.5 436.5,555.5 435.88,550.5 434,547.38 430.88,546.75 429.62,541.75"/>
<polygon fill="#FFD728" points="444,541.12 449,538 454,536.12 458.38,536.75 460.88,540.5 460.25,544.88 454,545.5 447.75,545.5 444.62,544.25"/>
<polygon fill="#FF9600" points="487.75,571.12 491.5,568.62 496.5,568 500.25,570.5 502.12,576.75 486.5,576.75"/>
</g>
<g clip-path="url(#t18)">
<polygon fill="#FFFFC8" points="511.25,447.25 640.75,447.25 640.75,576.75 511.25,576.75"/>
<polygon fill="#FFD728" points="640.75,459.25 637,459.88 635.12,463.62 630.75,463 628.25,459.88 625.75,457.38 623.25,460.5 619.5,461.75 615.75,459.88 613.25,458.62 610.75,460.5 608.88,464.25 608.25,469.25 605.12,473.62 602,476.12 602.62,478.62 598.25,479.88 595.75,484.88 594.5,489.25 598.25,493 599.5,496.12 595.75,499.25 592,503 592.62,508 593.25,513 587,514.25 580.75,515.5 578.88,520.5 576.38,526.12 580.75,525.5 584.5,524.88 587,528 588.88,533 591.38,538 593.25,543 593.88,549.25 592,551.75 585.75,553 582,554.25 580.75,556.75 579.5,560.5 577,565.5 574.5,569.25 570.75,570.5 567,568 563.25,566.12 562,570.5 560.75,576.75 640.75,576.75"/>
<polygon fill="#FFFFC8" points="622,484.88 624.5,484 626,486.12 624.5,489.25 622,490.5 620.12,488"/>
<polygon fill="#FFFFC8" points="597,504.88 599.5,504 604.5,508 610.75,511.75 615.75,514.25 616.38,518 613.25,519.88 609.5,518 607,513.62 602,510.5 598.25,508"/>
<polygon fill="#FFFFC8" points="637,471.12 640.75,469.25 640.75,479.25 638.25,478.62 637,474.88"/>
<polygon fill="#FFD728" points="511.25,558.62 515.75,562.38 520.75,566.75 525.75,569.25 519.5,569.25 514.5,566.75 511.25,564.88"/>
<polygon fill="#FFD728" points="515.75,576.75 519.5,571.12 527,571.75 534.5,573.62 542,574.88 545.75,576.75"/>
<polygon fill="#FF9600" points="620.12,561.12 621.75,561.12 621.75,563.62 620.12,563.62"/>
<polygon fill="#73C8F5" points="511.25,447.25 584.5,447.25 582,450.5 577,453 572,454.88 567,456.75 565.75,461.75 567,468 568.88,474.25 575.75,474.88 581.38,474.25 582,479.25 587,483 583.25,486.75 579.5,491.75 577,495.5 569.5,496.12 564.5,499.25 562,501.75 557,505.5 552.62,509.25 552.62,515.5 550.75,519.25 552,523 555.75,526.75 559.5,531.75 559.5,536.75 555.75,536.12 550.75,533 547,529.25 543.25,528 539.5,529.88 537,531.12 533.25,528 529.5,526.75 526.38,529.25 525.75,533 527.62,538 532,537.38 536.38,539.25 537,543 533.88,545.5 529.5,546.75 527.62,550.5 529.5,554.25 535.75,556.12 540.75,559.25 537,561.75 530.75,564.25 525.75,562.38 522,559.25 518.25,556.75 517,551.75 519.5,546.75 517,543 513.88,539.25 514.5,534.25 513.25,529.25 511.25,528"/>
<polygon fill="#FFFFC8" points="551.38,447.25 565.75,447.25 562,450.5 555.75,452.38 551.38,451.75"/>
<polygon fill="#FFFFC8" points="511.25,496.75 512,496.12 515.75,493 518.88,495.5 520.12,500.5 518.88,504.88 514.5,506.75 511.25,508"/>
<polygon fill="#73C8F5" points="553.88,518 557,516.75 560.12,518.62 559.5,523 556.38,521.12"/>
<polygon fill="#0AA0FA" points="511.25,447.25 535.12,447.25 533.25,453 532,458 529.5,461.75 524.5,465.5 519.5,469.25 514.5,473 511.25,474.88"/>
<polygon fill="#73C8F5" points="511.25,451.12 514.5,451.75 518.25,454.88 519.75,459.25 517,464.25 513.25,466.75 511.25,467.38"/>
<polygon fill="#3278E6" points="518.88,461.75 521.38,458.62 524.5,456.12 525.12,458 523.25,462.38 520.12,465.5 518.25,464.88"/>
<polygon fill="#0AA0FA" points="543.25,462.38 549.5,458.62 555.75,456.12 562,454.25 566.38,453.62 565.75,458 563.25,461.75 562,466.75 563.25,471.75 564.5,476.12 558.25,474.88 553.25,476.12 552.62,480.5 558.25,481.12 565.75,480.25 573.25,479.88 576.38,481.75 574.5,486.75 570.75,489.88 565.75,492.38 562,496.75 558.25,499.88 553.25,503 548.25,505.5 543.25,508 538.25,509.25 535.75,513 535.12,517.38 530.75,518.62 525.75,520.5 522.62,521.12 521.38,515.5 519.5,511.75 520.75,508 523.88,504.25 525.12,499.25 527.62,493 529.5,486.75 530.75,481.75 534.5,476.75 537,471.75 538.88,466.75"/>
<polygon fill="#3278E6" points="544.5,468.62 548.25,464.25 553.25,461.12 558.25,458 561.38,457.38 562,459.88 558.25,462.38 555.12,465.5 553.88,470.5 550.75,474.88 548.25,479.25 544.5,483.62 540.12,485.5 536.38,486.12 536.38,481.75 538.88,478.62 543.88,477.38 545.75,473.62 544.5,471.12"/>
<polygon fill="#3278E6" points="530.75,495.5 535.75,492.38 542,491.75 547,490.5 550.75,487.38 553.25,484.88 558.25,484.25 562,486.75 563.88,491.12 562,494.88 558.25,497.38 553.25,495.5 548.88,496.75 543.25,497.38 538.25,500.5 533.88,499.25 530.75,497.38"/>
<polygon fill="#0A14F5" points="553,489.88 555.12,488 558.25,488.25 560.12,491.12 559.25,494.25 555.75,495.25 553.25,493"/>
</g>
<g clip-path="url(#t19)">
<polygon fill="#FFD728" points="639.25,369.25 768.75,369.25 768.75,498.75 639.25,498.75"/>
<polygon fill="#FFFFC8" points="639.25,408.12 646.25,410 652.5,413.12 660,415 667.5,415.62 677.5,414.38 686.25,413.75 693.75,413.12 698.75,416.25 700.62,412.5 701.25,407.5 705,405 710,405.25 715,406.25 720,409.38 722.5,405 726.25,402.5 730,399.38 735,395.62 740,393.75 747.5,393.12 755,392.5 761.25,390 768.75,388.75 768.75,435 762.5,434.38 755,435.62 750,435 747.5,431.25 745,426.88 740,425 735,426.88 730,429.38 725,430.62 715,431.25 706.88,431.88 708.12,435 713.75,436.25 716.25,439.38 712.5,442.5 710,446.25 705,447.5 698.75,445.62 693.75,445 690,441.25 685.62,441.25 685,445 685.62,450 681.25,452.5 675,455 668.75,456.88 665.62,459.38 666.25,465 668.12,470 669.38,476.25 672.5,481.25 673.75,485 671.88,488.12 668.12,488.12 665.62,485 664.38,480 661.25,477.5 659.38,475 661.25,470 660.62,466.88 656.25,466.25 651.25,463.75 645,460.62 640,458.75 639.25,458.5"/>
<polygon fill="#FFFFC8" points="639.25,470 642.5,471.25 646.25,476.25 651.25,481.25 655.62,486.25 655,490.62 651.88,488.75 647.5,485 643.75,481.25 639.25,477.5"/>
<polygon fill="#FFFFC8" points="739.38,459.38 742.5,459 742.75,461.88 740.62,461.25"/>
<polygon fill="#73C8F5" points="639.25,416.25 645,416.5 650,418.12 652.5,422.5 656.25,424.38 661.25,426.25 665,426.88 670,423.75 676.25,420 681.25,418.12 687.5,417.75 693.75,418.75 698.12,420.62 698.12,423.12 692.5,423.12 686.25,423.75 680,425 673.75,426.88 667.5,428.75 662.5,432.5 658.75,435.62 655,438.12 652.5,440.62 650,443.12 643.75,443.5 639.25,443.12"/>
<polygon fill="#73C8F5" points="727.5,406.25 730,401.88 735,399.38 741.25,397.75 747.5,396.88 755,396.25 760,395 765,395.62 768.75,396.25 768.75,397.5 762.5,397.75 757.5,398.75 754.38,404.38 750,403.12 745,403.75 741.25,407.5 736.25,411.25 733.12,413.75 727.5,413.75"/>
</g>
<g clip-path="url(#t20)">
<polygon fill="#FFD728" points="398.83,538.83 601.17,538.83 601.17,741.17 398.83,741.17"/>
<polygon fill="#FFFFC8" points="398.83,569.3 432.23,569.3 432.23,575.94 435.16,582.97 439.06,589.8 441.99,596.64 443.95,604.45 445.9,609.34 450.78,614.22 456.64,618.12 462.5,623.98 467.38,631.8 470.31,636.68 475.2,631.8 478.12,626.91 482.03,622.03 483.98,614.22 485.94,606.41 487.89,602.5 491.8,604.45 495.7,610.31 499.61,614.22 501.56,622.03 503.52,629.84 501.56,635.7 499.61,639.61 505.47,643.52 511.33,642.54 517.19,643.52 519.14,649.38 515.23,655.23 513.28,661.09 517.19,665 522.07,668.91 524.02,676.72 523.05,684.53 522.07,692.34 525,700.16 523.05,707.97 521.09,715.78 522.07,723.59 526.95,729.45 530.86,735.31 533.79,741.17 398.83,741.17"/>
<polygon fill="#FFD728" points="398.83,732.38 407.81,730.43 419.53,729.45 427.34,732.38 431.25,737.27 433.2,741.17 398.83,741.17"/>
<polygon fill="#FFD728" points="469.34,728.48 474.22,728.48 474.22,731.41 469.34,731.41"/>
<polygon fill="#FFFFC8" points="511.33,598.59 515.23,597.62 517.19,600.55 514.26,604.45 511.33,603.48"/>
<polygon fill="#FFFFC8" points="438.09,581.99 441.99,579.06 445.9,581.02 442.97,585.9 439.06,585.9"/>
<polygon fill="#FFFFC8" points="506.45,573.2 512.3,569.3 517.19,571.25 515.23,576.13 509.38,578.09"/>
<polygon fill="#73C8F5" points="431.25,631.8 429.3,625.94 432.23,622.03 437.11,621.05 441.02,623.98 445.9,623.98 450.78,621.05 455.66,622.03 458.59,626.91 460.55,633.75 462.5,639.61 467.38,645.47 471.29,649.38 475.2,641.56 478.12,633.75 481.05,626.91 484.96,623.98 487.89,627.89 488.87,635.7 492.77,641.56 497.66,645.47 503.52,648.4 509.38,647.42 513.28,648.4 511.33,653.28 508.4,657.19 506.45,663.05 501.56,665.98 496.68,668.91 495.7,674.77 499.61,680.62 501.56,688.44 502.54,696.25 497.66,702.11 491.8,706.02 487.89,711.88 482.03,716.76 479.1,713.83 480.08,706.02 478.12,696.25 477.15,688.44 472.27,690.39 467.38,694.3 464.45,702.11 462.5,709.92 457.62,715.78 456.64,720.66 452.73,718.71 449.8,711.88 448.83,704.06 446.88,696.25 445.9,688.44 439.06,684.53 435.16,679.65 436.13,672.81 441.02,667.93 446.88,665 448.83,659.14 444.92,655.23 438.09,651.33 435.16,645.47 436.13,639.61 434.18,635.7"/>
<polygon fill="#FFFFC8" points="465.43,694.3 472.27,689.41 479.1,689.41 481.05,696.25 480.08,706.02 476.17,713.83 470.31,718.71 463.48,718.71 460.55,713.83 463.48,707.97 465.43,701.13"/>
<polygon fill="#FFD728" points="468.36,696.25 472.27,692.34 477.15,691.37 479.1,696.25 478.12,704.06 475.2,709.92 470.31,714.8 465.43,715.78 463.48,711.88 467.38,706.02 468.36,701.13"/>
<polygon fill="#0AA0FA" points="451.17,645.47 455.66,643.52 458.59,649.38 463.48,657.19 469.34,665 474.22,672.81 472.27,678.67 466.41,679.65 458.59,675.74 451.76,670.86 449.8,665 451.76,657.19"/>
<polygon fill="#0AA0FA" points="471.29,655.23 477.15,651.33 483.01,655.23 487.89,661.09 489.84,668.91 487.89,676.72 483.98,679.65 479.1,674.77 475.2,666.95 471.29,660.12"/>
<polygon fill="#3278E6" points="481.64,663.05 484.96,663.05 484.96,667.93 481.64,667.93"/>
<polygon fill="#0AA0FA" points="493.36,655.23 497.66,652.3 502.54,653.28 505.47,657.19 504.49,663.05 499.61,665.98 494.73,664.02 492.77,659.14"/>
<polygon fill="#3278E6" points="496.09,655.62 500.59,654.84 503.12,658.16 501.56,662.66 497.66,663.05 495.7,659.53"/>
<polygon fill="#0AA0FA" points="426.37,625.94 429.3,622.03 435.16,621.64 439.06,625.94 438.09,632.77 433.2,635.7 428.32,633.75"/>
<polygon fill="#3278E6" points="429.3,624.96 433.2,623.59 436.13,626.91 434.77,631.8 431.25,631.8"/>
<polygon fill="#0AA0FA" points="447.85,626.91 451.76,623.98 456.64,624.96 458.59,629.84 455.66,634.73 451.17,633.75 448.44,630.82"/>
<polygon fill="#3278E6" points="453.71,626.91 457.03,626.91 457.03,630.82 453.71,630.82"/>
<polygon fill="#73C8F5" points="451.76,727.5 456.64,722.62 462.5,721.64 466.02,725.55 464.45,732.38 458.59,735.31 453.71,733.36"/>
<polygon fill="#0AA0FA" points="459.57,724.57 464.45,724.57 464.45,730.43 459.57,730.43"/>
<polygon fill="#73C8F5" points="492.77,725.55 497.66,722.62 503.52,723.2 507.03,727.5 505.47,732.38 497.66,733.36 493.36,730.43"/>
<polygon fill="#3278E6" points="495.7,724.57 500.59,723.59 503.52,727.5 500.59,731.02 496.68,729.84"/>
<polygon fill="#73C8F5" points="475.2,732.38 482.03,728.48 489.84,730.43 487.89,734.34 480.08,735.31"/>
<polygon fill="#73C8F5" points="441.99,733.36 445.9,733.36 445.9,735.31 441.99,735.31"/>
<polygon fill="#73C8F5" points="420.51,661.09 424.41,657.19 425.39,665 422.46,669.88"/>
<polygon fill="#FF9600" points="448.83,575.94 448.83,569.3 482.03,569.3 482.03,575.94 485.94,572.23 491.8,569.3 497.66,569.3 501.56,574.18 503.52,581.02 509.38,584.92 513.67,587.85 512.3,592.73 509.38,597.62 505.47,602.5 500.59,602.5 497.66,596.64 495.7,588.83 493.75,584.92 489.84,585.9 486.91,590.78 485.94,598.59 483.98,606.41 482.03,614.22 478.12,622.03 473.83,625.94 470.31,620.08 466.41,614.22 460.55,609.34 455.66,605.43 452.73,598.59 449.8,590.78 447.85,583.95"/>
<polygon fill="#FFD728" points="475.2,597.62 478.12,597.62 478.12,602.5 475.2,602.5"/>
<polygon fill="#FF9600" points="514.26,612.27 519.14,607.38 526.95,603.48 536.72,603.48 544.53,607.38 551.37,614.22 558.2,622.03 564.06,625.94 565.04,633.75 563.09,643.52 560.16,650.35 554.3,649.38 546.48,644.49 538.67,638.63 530.86,633.75 525,627.89 520.12,622.03 517.19,617.15"/>
<polygon fill="#FFD728" points="553.32,626.91 558.2,626.91 558.2,632.77 553.32,632.77"/>
<polygon fill="#FF9600" points="537.7,657.19 542.58,657.19 542.58,659.14 537.7,659.14"/>
</g>
<g clip-path="url(#t21)">
<polygon fill="#FFFFC8" points="299.41,779.41 400.59,779.41 400.59,880.59 299.41,880.59"/>
<polygon fill="#FFD728" points="350.78,779.41 353.71,782.93 355.18,787.81 355.66,794.65 357.62,799.53 360.55,805.39 363.48,807.34 368.36,810.27 373.24,814.18 373.73,819.06 372.27,822.48 366.41,821.99 363.48,819.06 364.45,814.18 362.5,810.27 359.57,806.37 356.64,803.44 351.76,802.95 346.88,804.9 344.43,808.32 342.97,813.2 339.06,814.18 334.18,813.2 331.25,815.16 333.69,821.02 336.62,828.83 340.04,838.59 343.46,847.38 346.88,854.22 350.78,858.61 354.69,857.15 352.73,853.24 349.8,850.31 347.85,844.45 345.9,838.59 346.88,831.76 345.9,828.83 343.46,827.36 342.97,825.41 347.85,824.92 355.66,826.88 359.57,830.78 363.48,835.66 367.38,839.57 372.27,843.48 375.2,848.36 378.12,856.17 382.03,862.03 385.94,866.91 388.87,869.84 388.38,863.98 391.8,862.03 397.66,863.01 400.59,865.94 400.59,847.38 396.68,843.48 393.75,840.55 387.89,840.06 382.03,840.55 380.08,838.59 377.15,833.71 375.2,829.8 380.08,829.32 387.89,828.83 400.59,828.83 400.59,779.41"/>
<polygon fill="#73C8F5" points="362.99,842.5 364.94,842.01 368.36,844.45 369.82,847.38 369.34,851.29 367.38,850.31 364.45,848.36 363.48,845.43"/>
<polygon fill="#FFD728" points="321,796.11 322.95,795.62 322.66,798.07 321.29,798.07"/>
<polygon fill="#FFD728" points="324.9,808.81 327.83,808.81 326.86,810.76 325.39,810.27"/>
</g>
</g>
<polyline fill="none" stroke="#555" stroke-width="0.6" points="531.5,89 536.5,99 540.25,109 540.25,126.5 542.75,139 542.75,150.25 549,159 555.25,167.75 569,171.5 581.5,184 591.5,204 601.5,224 614,239 625.25,261.5 630.25,289"/>
<polyline fill="none" stroke="#555" stroke-width="0.6" points="457.75,89 458.5,94.5"/>
<polyline fill="none" stroke="#555" stroke-width="0.6" points="630.25,289 629,295 630,301.25 633.75,312.5 638.75,327.5 637.5,340 645,351.25 653.75,353.75 670,352 688.75,346.25 696.25,338 717.5,340 730,337.5 747.5,323.75 760,322.5 771.25,319.5 780,308.75 792.5,302.5 812.5,296.25 837.5,287.5"/>
<polyline fill="none" stroke="#555" stroke-width="0.6" points="367.25,676 366,666 369.75,659.75 378.5,654.75 388.5,651 399.75,649.25 411,649.75 418.5,653 423.5,658.5 426.5,664.75 423.5,672.25 421,681 419.75,688.5 416,694.75 408.5,699.75 403.5,703.5 411,705.5 416,706.5 408.5,713.5 398.5,714 388.5,713 379.75,711 373.5,716 369.75,719.75 368,711 367.25,701 368,691 367.25,683.5 367.25,676"/>
<polyline fill="none" stroke="#555" stroke-width="0.6" points="305.5,721 308,736 306,751 304.75,766 307.25,778.5 313.25,780"/>
<polyline fill="none" stroke="#555" stroke-width="0.6" points="313,761 317.25,773.5 323,780"/>
<polyline fill="none" stroke="#555" stroke-width="0.6" points="421,880.75 422.25,892 424.75,904.5 428,919.5 430.5,933.25 428.5,937 427.25,939"/>
<polyline fill="none" stroke="#555" stroke-width="0.6" points="439.75,923.25 444,930.75 443,939"/>
<polyline fill="none" stroke="#555" stroke-width="0.6" points="573.25,904.5 574.5,919.5 573.25,939"/>
<polyline fill="none" stroke="#555" stroke-width="0.6" points="307.32,780 309.77,785.86 309.28,791.72 308.79,797.58 312.7,805.39 317.58,813.2 321.48,820.04 327.34,824.92 334.18,830.78 337.11,838.59 340.04,846.41 339.06,852.27 338.09,858.12 343.95,860.08 351.76,862.03 350.78,858.61"/>
<polyline fill="none" stroke="#555" stroke-width="0.6" points="322.95,780 325.88,790.74 321,801 329.3,808.32 340.04,817.11 338.57,823.95 341.99,834.69 346.88,843.48 350.78,851.29 350.78,858.61"/>
<polyline fill="none" stroke="#000" stroke-width="1.3" stroke-linejoin="round" points="385.5,123.5 360.5,123.5 361.75,117.75 359.25,118.5 358,123.5 208.5,123.5 208.5,173.5 185.25,173.5 185.25,279.5 175,279 164.75,281 160,284.75 161.5,292 157,297.25 153.75,302 154.5,306 148.25,307.5 148.25,315.25 151.5,317.75 147.5,321.5"/>
<polyline fill="none" stroke="#000" stroke-width="1.1" stroke-linejoin="round" points="382.5,123.5 402,123.5 410.25,130.25 421.5,129.5 425.25,118.5 437.75,116 443.5,101.5 450.25,102.75 458.5,94.5"/>
<polyline fill="none" stroke="#000" stroke-width="1.6" stroke-linejoin="round" points="458.75,94.5 462.5,101.25 466.25,105 473.75,107 475.5,110.5 482.5,116.25 488.75,121.25 489.5,130 492,137.5 494.5,143 498,147 496,150 498,153.75 496.5,157.5 496.25,165 497.25,172.5 498,180 500,188.75 501.25,196.25 503.75,203 507.5,206.25 511.5,209 516.5,214 521.5,217.75 527.75,222.75 531.5,229 535.25,236.5 538.5,244 541,254 544,264 546.5,274 550.25,281.5 555.25,285.25 556.5,294 559,295.25 559,287.75 562.75,290.25 566.5,295.25 574,299 581.5,302.75 590.25,307.75 595.25,314 600.25,321.5"/>
<polyline fill="none" stroke="#000" stroke-width="1.1" stroke-linejoin="round" points="151.5,317.75 146.75,321.5 141.25,325.5 142,332.5 144.5,337.25 139.75,342 135.75,346.5 135,352 138.25,354.5 143.5,352.75 148.25,355.25 147.5,360.5 150,368.5 153,370 152.25,377.75 157,384 161.5,384.75 160.75,390.25 158.5,396.5 163.25,402.75 168.5,409 173.25,415.25 176.5,421.5 177.5,431.25 173,438.75 174.25,447.5 191.75,449.5 189.25,456.25 194.25,460 203,461.25 210.5,467.5 215.5,472.5 214.25,478.75 221.75,483.75 230.5,488.75 236.75,495 241.75,501.25 240.5,506.25 244.25,511.25 253,515 260.5,521.25 264.25,530 271.75,538.75 275.5,546.25 284.25,551.25 290.5,553.75 298,548.75 308,550 314.25,545 320.5,547.5 325.5,553.75 335.5,561.25 341.75,568.75 348,571.25 349.25,577.5"/>
<polyline fill="none" stroke="#000" stroke-width="1.2" stroke-linejoin="round" points="191.75,449.5 198,445 200.5,430 204.25,420 210.5,411.25 229.25,408.25 231.75,416.25 238,426.25 248,430 263,428 277.5,428 280.5,434.25 296.75,434.25 304.25,425 315,424.5 315.5,416.25 326,411.25 338,418.75 346.75,425 358,424.5 368,412.5 378,400 385.5,392.5"/>
<polyline fill="none" stroke="#000" stroke-width="1.2" stroke-linejoin="round" points="348,570.75 353,567.5 363,568.75 370.5,566.25 375.5,571.25 383.25,566.5"/>
<polyline fill="none" stroke="#000" stroke-width="1.5" stroke-linejoin="round" points="597.75,318.5 604,323.75 614,332.5 621.5,341.25 630.25,348.75 636.5,355 641.5,357.5"/>
<polyline fill="none" stroke="#000" stroke-width="1.3" stroke-linejoin="round" points="641.5,371.25 634,372.5 626.5,376.25 622.75,381.25 627.75,382.5 634,380 641.5,378.75"/>
<polyline fill="none" stroke="#000" stroke-width="1.5" stroke-linejoin="round" points="638.5,357.5 642,359.5 643.75,366.25 642.5,372 638.5,373"/>
<polyline fill="none" stroke="#000" stroke-width="1.5" stroke-linejoin="round" points="638.5,382.5 643.75,383.75 645,388.75 648.75,395 655,402.5 662.5,407.5 672.5,408.75 682.5,405 691.25,401.25 700,398.75 710,401.25 720,398.75 727.5,393.75 736.25,390 740,390.5 747.5,391.75 755,390 758.75,387.5 766.25,386.75 772.5,388 780,386.75 787.5,383.75 795,382.75 802.5,380.5 808,377.5 811.75,373 816.75,370.5 822.5,372.5 828.5,374 827.5,378.75 825.5,383 824.75,390 826.25,391.25 825,397.5 825.5,405 831.25,407.5 830,409.25 825,408 820,410 818.75,417.5 818,425 817.5,431.75 813.75,437.5 809.25,443.75 805.5,451.25 801.25,458.75 796.25,465 793.75,470 790.5,478 783.75,490 777.5,500 775,512.5 767.5,522.5 760,532.5 752.5,542.5 747.5,552.5 738.75,562.5 731.25,570 727.5,576"/>
<polyline fill="none" stroke="#000" stroke-width="1.2" stroke-linejoin="round" points="750,466.25 740,480 725,495 710,510 695,525 680,539.5 657.5,538.75 640,543.25 638.5,543.75"/>
<polyline fill="none" stroke="#000" stroke-width="1.5" stroke-linejoin="round" points="347.25,574.5 345.5,583.5 346.5,591 344,597.25 349.75,601 357.25,604 354.75,609.75 348.5,616 342.25,622.25 336,627.25 331,629.75 326,636 323.5,643.5 321.5,651 319.75,661 318.5,671 317.25,681 318,688.5 311,692.25 307.25,698.5 306,706 301,712.25 301,718.5 306,721 308.5,728.5 309.75,738.5 311.5,751 312.25,761"/>
<polyline fill="none" stroke="#000" stroke-width="1.6" stroke-linejoin="round" points="432.25,574.5 434.75,583.5 439.75,591 443,601 444,611 442.25,619.75 438.5,626 434.75,632.25 429.75,637.25 426,641 423,646 419.75,652.25 419,661 419.75,671 420.5,678.5"/>
<polyline fill="none" stroke="#000" stroke-width="1.4" stroke-linejoin="round" points="337.25,681 343.5,678.5 420.5,678.5"/>
<polyline fill="none" stroke="#000" stroke-width="1.4" stroke-linejoin="round" points="420.5,678.5 431,683.5 446,692.25 463.5,702.25 481,712.25 496,721 506,726 507.25,736 511,742.25 513.5,743.5"/>
<polyline fill="none" stroke="#000" stroke-width="1.5" stroke-linejoin="round" points="318.5,687.25 324.75,688.5 329.75,684.75 337.25,681 341,688.5 344.75,693.5 344.75,701 346.5,706 344.75,712.25 338.5,716 337.25,723.5 344.75,726 346,732.25 342.25,736 337.25,741 333.5,748.5 328.5,754.75 321,759.75 313,761"/>
<polyline fill="none" stroke="#000" stroke-width="1.5" stroke-linejoin="round" points="306,720.5 314.75,721 323.5,719.75 326,712.25 331,711 338.5,712.25 344.75,712.25"/>
<polyline fill="none" stroke="#000" stroke-width="1.2" stroke-linejoin="round" points="312.25,761 312.75,760.25 313.5,774.5 314.25,780 316.5,786.75 317,794.5 317.5,801.5 319.5,808.25 324.5,813.75 329.25,818 333.25,823 336,829.75 337,833.5"/>
<polyline fill="none" stroke="#000" stroke-width="1.4" stroke-linejoin="round" points="727.5,576 719.5,582.25 709.5,592.25 699.5,601 687,608.5 674.5,616 662,626 649.5,637.25 637,648.5 624.5,661 614.5,673.5 610.75,680 606.5,684.75 602.5,688.5 599,693 596.25,697.25 593,700.25 587,704.75 579,711.25 576.75,715.25 571.25,716 567.25,718.25 566.25,721.5 567.25,726 565,733 561,734.75 559.75,740 557.5,746.25 554.5,751.75 551.25,758 547.75,763.5 543.75,765 542,771.25 539.5,779 536.5,787 534,794.75 533.75,799.5 535.5,804.75 540,810 545.5,815 550.25,817.75 552.25,822.75 549.25,826.5 547,832"/>
<polyline fill="none" stroke="#000" stroke-width="1.2" stroke-linejoin="round" points="598.25,576 585.75,588.5 586,674.75 599.5,692.25"/>
<polyline fill="none" stroke="#000" stroke-width="1.4" stroke-linejoin="round" points="510.5,743 527,754.75 543.25,765.5"/>
<polyline fill="none" stroke="#000" stroke-width="1.5" stroke-linejoin="round" points="554.5,770 559.75,771 559.5,777.5 557.5,783 554.5,785.25 551.5,783.75 552.75,777.5 553.5,772.75 554.5,770"/>
<polyline fill="none" stroke="#000" stroke-width="1.5" stroke-linejoin="round" points="544.25,790.5 547,790.75 548,796.25 551.25,800.25 552.5,806.5 551,808.75 547.25,807.25 544.25,803.25 542,801 543,796.25 544.25,790.5"/>
<polyline fill="none" stroke="#000" stroke-width="1.3" stroke-linejoin="round" points="336,829.75 339,837.5 342,844.5 345,850.25 348,855.25 350.75,858.5 354.75,858 359.5,860 363.5,864 367.5,866 372.25,867 374.25,869.75 380,871.25 385,872.75 389.75,875.75 397.75,878 401,879.5 408.5,883.25 416,884 421,880.75 426,885.75 431,892 434,899.5 434.75,909.5 436,917 439.75,923.25 443.5,929.5 453.5,930 461,928.25 466,926.5 471,929.5 476,932.5 483.5,933.25 488.5,930.75 496,932 503.5,933.25 507.25,931.5 510.5,927 512.5,923.5 513.5,923"/>
<polyline fill="none" stroke="#000" stroke-width="1.5" stroke-linejoin="round" points="547,831.5 546.5,837.25 548.75,842.25 547.25,847 545.5,853 547,858.75 549.25,863.75 551.25,868.5 553.75,873.5 553.25,878.5 555.5,884.25 557.5,889 556,893 559,892 563,896 568,898 571.75,899.75 573.25,903.75"/>
<polyline fill="none" stroke="#000" stroke-width="1.2" stroke-linejoin="round" points="572.19,903.75 565.94,907.66 559.69,911.56 551.88,915.47 545.62,919.38 539.38,920.16 533.12,921.72 526.88,926.41 523.75,925.62 519.06,922.5 512.81,923.28 511.25,927.19"/>
<polyline fill="none" stroke="#000" stroke-width="1.3" stroke-linejoin="round" points="553.25,843.25 557,839.25 560.5,836 560,840.25 557.5,845.25 555.25,846.5 553.25,843.25"/>
<polyline fill="none" stroke="#000" stroke-width="1.2" stroke-linejoin="round" points="528.59,225 524.69,232.03 520,233.59 515.31,235.16 511.41,236.72 508.28,238.28 503.59,240.62 501.25,242.97 492.66,246.56 491.09,253.12 489.53,262.5 486.41,273.44 483.28,282.81 479.38,293.75 479.38,301.56 480.94,314.84 479.69,320"/>
<polyline fill="none" stroke="#000" stroke-width="1.2" stroke-linejoin="round" points="480.94,314.84 488.75,314.06 493.44,314.84 495.78,311.72 498.91,311.72 502.81,316.41 506.72,309.38 512.97,300.78 515.31,303.91 520,305.47 523.12,308.59 526.25,310.94 532.5,310.16 538.75,307.81 541.09,307.03 544.22,309.38 551.25,308.12 557.5,309.38 562.19,310.94 565.31,308.59 570,310.16 577.81,316.41 582.81,320.94"/>
<polyline fill="none" stroke="#000" stroke-width="1.2" stroke-linejoin="round" points="480.25,319.25 479,325 476.5,333.75 474,341.25 472.12,348.12 470.88,353.12 462.75,354 459,357.5 455.25,363.75 451.5,370.62 446.5,375.62 445.25,380 445.25,386.25 442.75,391.25 444,395.62 440.25,400.62 435.25,396.88 430.25,401.88 427.75,406.25 427.12,412.5 425.25,420 424,430 424.25,438.75 424.62,448.75"/>
<polyline fill="none" stroke="#000" stroke-width="1.2" stroke-linejoin="round" points="424,430 419,430 420.25,423.75 420.25,416.25 416.5,411.25 410.25,406.25 403.38,401.25 402.12,390 400.88,380 402.75,371.25 404,365.62 390.88,365.62 390.25,372.25 378,372.5"/>
<polyline fill="none" stroke="#000" stroke-width="1.2" stroke-linejoin="round" points="384,372.5 384,393.75"/>
<polyline fill="none" stroke="#000" stroke-width="1.2" stroke-linejoin="round" points="583.25,319.25 588.25,325 594.5,331.25 602,338.75 608.25,346.25 614.5,353.75 619.5,358.12"/>
<polyline fill="none" stroke="#000" stroke-width="1.2" stroke-linejoin="round" points="619.5,358.12 625.75,361.25 628.88,358.75 630.75,355.62 635.12,353.12"/>
<polyline fill="none" stroke="#000" stroke-width="1.2" stroke-linejoin="round" points="619.5,358.12 615.75,365 610.75,372.5 605.75,376.88 604.5,382.5 605.12,390 605.12,395.62 610.75,396.25 615.75,394.38 622,393.12 625.75,392.5 630.12,395"/>
<polyline fill="none" stroke="#000" stroke-width="1.2" stroke-linejoin="round" points="630.12,395 633.88,390 637,385 639.5,382.5 640.75,382.25"/>
<polyline fill="none" stroke="#000" stroke-width="1.2" stroke-linejoin="round" points="630.12,395 627.62,400 625.75,403.75 628.25,408.75 630.75,413.75 634.5,418.75 638.25,421.88 640.75,424.38"/>
<polyline fill="none" stroke="#000" stroke-width="1.2" stroke-linejoin="round" points="424.62,447.25 424,451.75 420.25,454.25 414.62,456.12 411.5,454.25 402.75,456.12 401.5,461.75 397.75,466.75 398.38,470.5 404,472.38 410.25,473 416.5,476.12 420.88,480.5 422.75,485.5 427.75,489.88 432.75,494.25 436.5,497.38 442.12,500.5 444.62,504.25 444,509.25 445.25,515.5 447.75,520.5 451.5,525.5 456.5,526.12 462.75,527.38 464.62,530.5 464,535.5 464,540.5 466.5,546.12 469.62,549.25 479,549.88 490.25,550.5 496.5,555.5 504,560.5 512.75,565.5"/>
<polyline fill="none" stroke="#000" stroke-width="1.3" stroke-linejoin="round" points="451.5,526.12 446.5,533 439,540.5 432.75,546.75 421.5,555.5"/>
<polyline fill="none" stroke="#000" stroke-width="1" stroke-linejoin="round" points="452.12,528 459,526.5 464,529.25"/>
<polyline fill="none" stroke="#000" stroke-width="1.2" stroke-linejoin="round" points="430.88,546.5 465.88,546.12"/>
<polyline fill="none" stroke="#000" stroke-width="1.2" stroke-linejoin="round" points="421.5,555.5 415.25,561.75 409.62,566.5 402.75,566.12 397.75,563.62 391.5,566.12 383.25,566.5"/>
<polyline fill="none" stroke="#000" stroke-width="1.8" stroke-linejoin="round" points="421.5,555.5 422.75,560.5 425.25,564.25 428.38,566.75 432.12,569.25 431.5,576.75"/>
<polyline fill="none" stroke="#000" stroke-width="1.2" stroke-linejoin="round" points="511.25,565.25 517,568.62 524.5,569.88 530.75,569.25 537,571.75 544.5,573 549.5,575.5 554.5,570.5 559.5,564.25 564.5,561.12 570.75,558.62 580.75,554.25 584.5,558 588.88,562.38 598.25,561.75 605.75,562 610.75,557.38 618.25,555.5 624.5,554.88 630.12,553 633.88,548 637,545.5 640.75,543.62"/>
<polyline fill="none" stroke="#000" stroke-width="1.2" stroke-linejoin="round" points="605.75,562 602,568 598.25,576"/>
<polyline fill="none" stroke="#000" stroke-width="1.2" stroke-linejoin="round" points="639.25,425 642.5,430 647.5,433.75 652.5,438.75 656.88,442.25 671.25,447.5 690,454.38 708.75,460.62 726.25,466.25 750.62,466.25"/>
<polygon fill="#000" points="580.23,700.7 583.75,701.48 586.09,698.75 587.27,701.09 590.78,699.53 593.91,701.09 591.56,704.22 587.66,706.56 585.7,710.08 582.19,710.86 578.28,709.69 579.84,707.34 582.97,705.78 582.19,703.05"/>
<ellipse cx="631" cy="348.5" rx="3" ry="2.2" transform="rotate(40 631 348.5)" fill="#000"/>
<ellipse cx="623.75" cy="381.62" rx="2" ry="1.4" fill="#000"/>
<path d="M519.2,205.5h1.2v1.2h-1.2zM528.4,210.0h1.1v1.1h-1.1zM528.7,209.4h0.9v0.9h-0.9zM519.3,203.6h0.9v0.9h-0.9zM508.9,202.6h1.0v1.0h-1.0zM520.7,211.0h1.4v1.4h-1.4zM516.9,199.1h1.4v1.4h-1.4zM533.7,212.6h1.0v1.0h-1.0zM523.3,206.8h1.1v1.1h-1.1zM525.0,202.2h1.2v1.2h-1.2zM519.3,198.7h1.2v1.2h-1.2zM523.9,205.6h1.0v1.0h-1.0zM521.0,198.2h1.1v1.1h-1.1zM516.8,198.5h1.0v1.0h-1.0zM528.0,198.6h1.0v1.0h-1.0zM515.8,198.1h1.3v1.3h-1.3zM523.0,200.0h1.4v1.4h-1.4zM525.7,209.6h1.3v1.3h-1.3zM524.6,210.4h0.9v0.9h-0.9zM519.4,194.6h1.2v1.2h-1.2zM527.5,203.2h1.2v1.2h-1.2zM516.1,197.2h1.1v1.1h-1.1zM535.1,198.9h1.1v1.1h-1.1zM521.4,202.0h1.3v1.3h-1.3zM514.4,186.6h1.3v1.3h-1.3zM518.5,207.7h1.2v1.2h-1.2zM529.2,208.2h1.0v1.0h-1.0zM523.3,205.9h1.3v1.3h-1.3zM524.4,208.1h1.1v1.1h-1.1zM524.6,203.6h1.1v1.1h-1.1zM555.2,273.2h1.4v1.4h-1.4zM565.9,269.5h1.0v1.0h-1.0zM563.0,285.9h1.5v1.5h-1.5zM567.7,276.5h0.9v0.9h-0.9zM568.1,280.8h1.2v1.2h-1.2zM565.2,274.6h1.0v1.0h-1.0zM563.4,281.1h1.5v1.5h-1.5zM560.6,267.8h1.2v1.2h-1.2zM563.7,272.4h1.4v1.4h-1.4zM562.2,261.2h1.3v1.3h-1.3zM563.1,279.1h0.8v0.8h-0.8zM563.4,272.7h0.8v0.8h-0.8zM566.9,277.3h1.0v1.0h-1.0zM565.1,274.0h0.8v0.8h-0.8zM569.5,276.3h0.7v0.7h-0.7zM566.9,266.5h0.8v0.8h-0.8zM567.0,279.7h1.0v1.0h-1.0zM573.9,280.1h1.5v1.5h-1.5zM560.8,277.2h0.8v0.8h-0.8zM569.3,276.2h0.9v0.9h-0.9zM565.0,270.4h0.7v0.7h-0.7zM569.1,269.9h0.8v0.8h-0.8zM563.9,274.0h1.1v1.1h-1.1zM572.8,269.3h1.3v1.3h-1.3zM566.8,279.9h0.8v0.8h-0.8zM563.0,266.3h1.3v1.3h-1.3zM564.9,278.3h1.3v1.3h-1.3zM572.8,269.9h1.3v1.3h-1.3zM564.6,263.8h0.9v0.9h-0.9zM560.8,274.8h0.7v0.7h-0.7zM568.7,273.6h0.9v0.9h-0.9zM556.1,261.1h1.1v1.1h-1.1zM574.1,262.8h1.5v1.5h-1.5zM564.2,278.0h0.9v0.9h-0.9zM567.4,277.6h1.2v1.2h-1.2zM569.1,264.8h1.1v1.1h-1.1zM557.4,266.6h0.8v0.8h-0.8zM555.9,264.5h1.3v1.3h-1.3zM562.5,267.0h0.8v0.8h-0.8zM564.0,268.3h1.3v1.3h-1.3zM568.8,271.4h1.0v1.0h-1.0zM570.2,268.4h0.8v0.8h-0.8zM567.6,275.9h1.4v1.4h-1.4zM564.7,270.5h1.4v1.4h-1.4zM570.7,270.7h1.0v1.0h-1.0zM562.5,273.8h0.7v0.7h-0.7zM570.4,270.2h1.1v1.1h-1.1zM568.2,269.9h1.4v1.4h-1.4zM565.0,269.8h0.9v0.9h-0.9zM565.8,278.7h1.2v1.2h-1.2zM567.1,280.4h0.8v0.8h-0.8zM567.2,269.7h1.1v1.1h-1.1zM554.7,270.3h1.0v1.0h-1.0zM568.0,268.9h1.1v1.1h-1.1zM564.1,274.1h1.1v1.1h-1.1zM565.3,274.4h1.3v1.3h-1.3zM569.5,279.3h1.3v1.3h-1.3zM560.8,273.4h1.1v1.1h-1.1zM556.7,272.9h0.8v0.8h-0.8zM561.4,273.4h0.9v0.9h-0.9zM563.1,266.5h1.1v1.1h-1.1zM560.7,260.3h1.1v1.1h-1.1zM559.5,270.7h1.1v1.1h-1.1zM561.1,268.3h1.1v1.1h-1.1zM555.7,279.6h1.3v1.3h-1.3zM568.5,261.2h0.9v0.9h-0.9zM553.6,272.1h1.4v1.4h-1.4zM567.3,275.9h1.1v1.1h-1.1zM568.5,275.0h0.8v0.8h-0.8zM558.0,266.0h1.4v1.4h-1.4zM571.7,280.6h1.2v1.2h-1.2zM574.1,281.9h1.5v1.5h-1.5zM572.4,288.1h1.0v1.0h-1.0zM552.8,280.1h1.4v1.4h-1.4zM569.4,278.6h1.1v1.1h-1.1zM564.8,278.0h1.0v1.0h-1.0zM564.4,272.9h1.1v1.1h-1.1zM564.4,274.7h1.0v1.0h-1.0zM559.5,270.2h0.8v0.8h-0.8zM572.1,270.3h1.5v1.5h-1.5zM568.7,276.0h0.7v0.7h-0.7zM563.9,269.0h0.8v0.8h-0.8zM559.1,283.3h1.4v1.4h-1.4zM566.1,277.5h1.4v1.4h-1.4zM557.6,272.1h0.8v0.8h-0.8zM572.2,275.1h1.0v1.0h-1.0zM576.3,277.1h1.2v1.2h-1.2zM564.7,271.4h1.4v1.4h-1.4zM574.5,276.1h1.1v1.1h-1.1zM564.5,281.6h1.4v1.4h-1.4zM566.9,276.1h0.8v0.8h-0.8zM567.6,275.5h0.6v0.6h-0.6zM572.0,271.6h0.7v0.7h-0.7zM565.5,285.7h0.6v0.6h-0.6zM560.7,273.9h0.7v0.7h-0.7zM572.6,270.3h0.5v0.5h-0.5zM561.4,263.0h0.6v0.6h-0.6zM547.5,281.9h0.6v0.6h-0.6zM567.1,263.4h0.7v0.7h-0.7zM567.9,264.0h0.8v0.8h-0.8zM549.6,255.6h0.7v0.7h-0.7zM568.8,259.4h0.8v0.8h-0.8zM561.0,278.3h0.5v0.5h-0.5zM569.0,273.3h0.9v0.9h-0.9zM567.5,276.6h0.5v0.5h-0.5zM570.6,255.9h0.8v0.8h-0.8zM566.7,277.9h0.6v0.6h-0.6zM561.6,274.9h0.7v0.7h-0.7zM571.2,291.8h1.0v1.0h-1.0zM559.3,272.6h1.0v1.0h-1.0zM565.5,279.6h0.5v0.5h-0.5zM561.0,280.3h0.8v0.8h-0.8zM572.1,279.4h0.5v0.5h-0.5zM566.9,275.4h0.7v0.7h-0.7zM567.9,271.8h0.7v0.7h-0.7zM570.8,281.5h0.8v0.8h-0.8zM562.0,261.0h0.9v0.9h-0.9zM570.2,264.6h0.7v0.7h-0.7zM570.6,269.8h0.9v0.9h-0.9zM563.8,270.8h0.9v0.9h-0.9zM572.8,262.0h0.9v0.9h-0.9zM566.4,267.6h0.8v0.8h-0.8zM549.8,277.4h0.9v0.9h-0.9zM568.0,261.3h0.9v0.9h-0.9zM556.8,263.4h0.6v0.6h-0.6zM570.7,271.2h0.7v0.7h-0.7zM581.9,276.1h0.8v0.8h-0.8zM555.0,267.4h0.8v0.8h-0.8zM565.3,272.3h0.9v0.9h-0.9zM562.7,263.2h0.8v0.8h-0.8zM563.5,270.3h0.9v0.9h-0.9zM567.0,275.0h0.6v0.6h-0.6zM563.4,267.2h0.9v0.9h-0.9zM575.3,267.1h0.7v0.7h-0.7zM553.8,278.1h0.9v0.9h-0.9zM554.4,268.0h0.5v0.5h-0.5zM571.6,275.2h0.9v0.9h-0.9zM565.7,282.5h0.5v0.5h-0.5zM573.0,272.0h0.8v0.8h-0.8zM557.7,263.1h0.6v0.6h-0.6zM556.3,274.6h0.7v0.7h-0.7zM583.1,278.0h0.6v0.6h-0.6zM584.8,262.4h0.5v0.5h-0.5zM552.1,281.1h1.0v1.0h-1.0zM560.3,276.2h0.6v0.6h-0.6zM570.9,268.3h0.8v0.8h-0.8zM575.1,276.8h1.0v1.0h-1.0zM580.3,278.5h0.8v0.8h-0.8zM573.2,260.7h0.6v0.6h-0.6zM571.9,264.0h0.5v0.5h-0.5zM581.5,284.1h0.7v0.7h-0.7zM577.5,285.6h0.6v0.6h-0.6zM575.7,289.3h0.5v0.5h-0.5zM578.0,278.3h0.5v0.5h-0.5zM582.2,281.9h0.9v0.9h-0.9zM577.3,286.8h0.7v0.7h-0.7zM582.0,284.0h0.6v0.6h-0.6zM575.8,285.1h0.5v0.5h-0.5zM582.6,287.4h0.6v0.6h-0.6zM580.1,283.1h0.6v0.6h-0.6zM576.1,283.9h0.6v0.6h-0.6zM584.0,282.3h0.8v0.8h-0.8zM573.5,279.1h0.9v0.9h-0.9zM573.4,282.5h0.5v0.5h-0.5zM577.6,280.7h0.8v0.8h-0.8zM576.5,282.1h0.5v0.5h-0.5zM579.4,283.3h0.7v0.7h-0.7zM576.6,286.1h0.8v0.8h-0.8zM580.3,283.7h0.8v0.8h-0.8zM576.8,287.6h0.7v0.7h-0.7zM578.9,285.5h0.6v0.6h-0.6zM580.9,282.0h0.6v0.6h-0.6zM586.4,278.4h0.7v0.7h-0.7zM579.3,285.5h0.5v0.5h-0.5zM577.3,285.1h0.6v0.6h-0.6zM565.9,295.0h1.5v1.5h-1.5zM569.5,291.3h1.1v1.1h-1.1zM564.5,289.7h1.1v1.1h-1.1zM570.4,295.9h1.6v1.6h-1.6zM570.0,297.1h1.3v1.3h-1.3zM570.5,293.6h1.0v1.0h-1.0zM566.6,294.7h1.2v1.2h-1.2zM575.9,298.1h1.5v1.5h-1.5zM568.9,293.9h1.4v1.4h-1.4zM572.4,294.7h1.3v1.3h-1.3zM571.8,296.2h1.5v1.5h-1.5zM573.9,292.9h1.6v1.6h-1.6zM567.3,293.8h0.9v0.9h-0.9zM562.6,287.8h1.6v1.6h-1.6zM569.0,289.8h1.4v1.4h-1.4zM562.8,289.6h0.8v0.8h-0.8zM569.6,292.3h1.5v1.5h-1.5zM567.0,290.2h0.9v0.9h-0.9zM565.9,295.3h1.4v1.4h-1.4zM568.8,294.4h1.2v1.2h-1.2zM565.4,289.4h1.0v1.0h-1.0zM567.7,292.5h1.0v1.0h-1.0zM557.7,286.2h1.3v1.3h-1.3zM572.3,294.4h1.0v1.0h-1.0zM564.6,297.4h1.4v1.4h-1.4zM567.4,293.1h1.2v1.2h-1.2zM567.5,289.9h1.0v1.0h-1.0zM566.5,286.0h1.0v1.0h-1.0zM571.1,296.2h1.1v1.1h-1.1zM567.8,291.1h1.4v1.4h-1.4zM569.4,290.7h1.0v1.0h-1.0zM571.5,295.5h1.5v1.5h-1.5zM567.3,294.5h1.4v1.4h-1.4zM562.0,294.8h1.2v1.2h-1.2zM568.1,295.0h1.1v1.1h-1.1zM566.2,285.5h0.9v0.9h-0.9zM565.3,292.0h1.6v1.6h-1.6zM568.4,294.1h0.8v0.8h-0.8zM559.7,289.9h1.5v1.5h-1.5zM571.4,286.0h1.5v1.5h-1.5z" fill="#000"/>
</g>
<rect x="129.5" y="89.25" width="707.25" height="850" fill="none" stroke="#000" stroke-width="1.1"/>
<line x1="108" x2="129.5" y1="173.25" y2="173.25" stroke="#000" stroke-width="1"/><text x="88.8" y="184.25" text-anchor="end" font-size="29.3" fill="#000">20°N</text>
<line x1="108" x2="129.5" y1="297.25" y2="297.25" stroke="#000" stroke-width="1"/><text x="88.8" y="308.25" text-anchor="end" font-size="29.3" fill="#000">15°N</text>
<line x1="108" x2="129.5" y1="418.25" y2="418.25" stroke="#000" stroke-width="1"/><text x="88.8" y="429.25" text-anchor="end" font-size="29.3" fill="#000">10°N</text>
<line x1="108" x2="129.5" y1="537.25" y2="537.25" stroke="#000" stroke-width="1"/><text x="88.8" y="548.25" text-anchor="end" font-size="29.3" fill="#000">5°N</text>
<line x1="108" x2="129.5" y1="655.25" y2="655.25" stroke="#000" stroke-width="1"/><text x="88.8" y="666.25" text-anchor="end" font-size="29.3" fill="#000">0°</text>
<line x1="108" x2="129.5" y1="773" y2="773" stroke="#000" stroke-width="1"/><text x="88.8" y="784" text-anchor="end" font-size="29.3" fill="#000">5°S</text>
<line x1="108" x2="129.5" y1="892.25" y2="892.25" stroke="#000" stroke-width="1"/><text x="88.8" y="903.25" text-anchor="end" font-size="29.3" fill="#000">10°S</text>
<line y1="939.25" y2="960.5" x1="208.75" x2="208.75" stroke="#000" stroke-width="1"/><text x="208.75" y="1003.2" text-anchor="middle" font-size="29.3" fill="#000">25°E</text>
<line y1="939.25" y2="960.5" x1="326.75" x2="326.75" stroke="#000" stroke-width="1"/><text x="326.75" y="1003.2" text-anchor="middle" font-size="29.3" fill="#000">30°E</text>
<line y1="939.25" y2="960.5" x1="444.5" x2="444.5" stroke="#000" stroke-width="1"/><text x="444.5" y="1003.2" text-anchor="middle" font-size="29.3" fill="#000">35°E</text>
<line y1="939.25" y2="960.5" x1="562.5" x2="562.5" stroke="#000" stroke-width="1"/><text x="562.5" y="1003.2" text-anchor="middle" font-size="29.3" fill="#000">40°E</text>
<line y1="939.25" y2="960.5" x1="680.25" x2="680.25" stroke="#000" stroke-width="1"/><text x="680.25" y="1003.2" text-anchor="middle" font-size="29.3" fill="#000">45°E</text>
<line y1="939.25" y2="960.5" x1="798.25" x2="798.25" stroke="#000" stroke-width="1"/><text x="798.25" y="1003.2" text-anchor="middle" font-size="29.3" fill="#000">50°E</text>
<rect x="888.25" y="96.25" width="42.25" height="76" fill="#FFAFAF" stroke="#222" stroke-width="0.6"/>
<rect x="888.25" y="172.25" width="42.25" height="76" fill="#CD0000" stroke="#222" stroke-width="0.6"/>
<rect x="888.25" y="248.25" width="42.25" height="76" fill="#FF3200" stroke="#222" stroke-width="0.6"/>
<rect x="888.25" y="324.25" width="42.25" height="76" fill="#FF9600" stroke="#222" stroke-width="0.6"/>
<rect x="888.25" y="400.25" width="42.25" height="76" fill="#FFD728" stroke="#222" stroke-width="0.6"/>
<rect x="888.25" y="476.25" width="42.25" height="76" fill="#FFFFC8" stroke="#222" stroke-width="0.6"/>
<rect x="888.25" y="552.25" width="42.25" height="76" fill="#73C8F5" stroke="#222" stroke-width="0.6"/>
<rect x="888.25" y="628.25" width="42.25" height="76" fill="#0AA0FA" stroke="#222" stroke-width="0.6"/>
<rect x="888.25" y="704.25" width="42.25" height="76" fill="#3278E6" stroke="#222" stroke-width="0.6"/>
<rect x="888.25" y="780.25" width="42.25" height="76" fill="#0A14F5" stroke="#222" stroke-width="0.6"/>
<rect x="888.25" y="856.25" width="42.25" height="76" fill="#8220F0" stroke="#222" stroke-width="0.6"/>
<text x="955.5" y="180.65" text-anchor="middle" font-size="24.2" fill="#000">40</text>
<text x="955.5" y="256.65" text-anchor="middle" font-size="24.2" fill="#000">36</text>
<text x="955.5" y="332.65" text-anchor="middle" font-size="24.2" fill="#000">32</text>
<text x="955.5" y="408.65" text-anchor="middle" font-size="24.2" fill="#000">28</text>
<text x="955.5" y="484.65" text-anchor="middle" font-size="24.2" fill="#000">24</text>
<text x="955.5" y="560.65" text-anchor="middle" font-size="24.2" fill="#000">20</text>
<text x="955.5" y="636.65" text-anchor="middle" font-size="24.2" fill="#000">16</text>
<text x="955.5" y="712.65" text-anchor="middle" font-size="24.2" fill="#000">12</text>
<text x="955.5" y="788.65" text-anchor="middle" font-size="24.2" fill="#000">8</text>
<text x="955.5" y="864.65" text-anchor="middle" font-size="24.2" fill="#000">4</text>
<g><circle cx="770" cy="146.9" r="41" fill="none" stroke="#1E7A3C" stroke-width="0.35"/><circle cx="770" cy="146.9" r="39.7" fill="none" stroke="#1E7A3C" stroke-width="0.3"/><circle cx="770" cy="146.9" r="32.7" fill="none" stroke="#1E7A3C" stroke-width="0.35"/><defs><path id="rt1" d="M 735.73 141.47 A 34.7 34.7 0 0 1 804.27 141.47"/><path id="rt2" d="M 732.37 152.86 A 38.1 38.1 0 0 0 807.63 152.86"/></defs><text font-size="4.3" font-weight="bold" fill="#1E7A3C" stroke="#1E7A3C" stroke-width="0.12"><textPath href="#rt1" textLength="97.6" lengthAdjust="spacingAndGlyphs">INTERGOVERNMENTAL AUTHORITY ON DEVELOPMENT</textPath></text><text font-size="4.0" font-weight="bold" fill="#1E7A3C" stroke="#1E7A3C" stroke-width="0.1"><textPath href="#rt2" textLength="107.2" lengthAdjust="spacingAndGlyphs">AUTORITÉ INTERGOUVERNEMENTALE POUR LE DÉVELOPPEMENT</textPath></text><text x="770.6" y="130.7" text-anchor="middle" font-size="12.8" font-weight="bold" fill="#1E7A3C">IGAD</text><text x="770.2" y="202.3" text-anchor="middle" font-size="10" font-weight="bold" fill="#1E7A3C">ICPAC</text><polygon fill="#1E7A3C" points="756.88,135.62 762.5,134 766.25,134.75 768.75,136.5 771.25,136 776.88,136.5 778.5,139.38 780,142.5 781.88,146.25 786.5,146.5 785,149.38 783.12,151.88 781.25,154.38 781.88,157.5 781.25,161.25 779.38,165 776.25,168.12 773.12,168.12 771.25,166.25 770,162.5 768.75,158.12 768.12,153.75 765,152.5 760,152.5 756.88,150 755,146.25 753.75,142.5 755,138.75"/><polygon fill="#E8A84C" points="772.5,142.5 775,140.62 778.75,140 780,142.5 781.88,146.25 786.5,146.5 785,149.38 783.12,151.88 781.25,154 778.12,152.5 776.25,149.38 773.12,147.5 771.88,145"/><line x1="753.5" y1="136.25" x2="762.5" y2="136.25" stroke="#1E7A3C" stroke-width="0.9"/><line x1="758.5" y1="137.75" x2="765" y2="137.75" stroke="#fff" stroke-width="0.5"/><line x1="751.25" y1="139.38" x2="760" y2="139.38" stroke="#E8A84C" stroke-width="0.9"/><line x1="756.25" y1="140.88" x2="762.5" y2="140.88" stroke="#fff" stroke-width="0.5"/><line x1="750" y1="142.5" x2="760" y2="142.5" stroke="#1E7A3C" stroke-width="0.9"/><line x1="755" y1="144" x2="762.5" y2="144" stroke="#fff" stroke-width="0.5"/><line x1="749.75" y1="145.62" x2="758.75" y2="145.62" stroke="#E8A84C" stroke-width="0.9"/><line x1="754.75" y1="147.12" x2="761.25" y2="147.12" stroke="#fff" stroke-width="0.5"/><line x1="752.25" y1="148.5" x2="760" y2="148.5" stroke="#1E7A3C" stroke-width="0.9"/><line x1="757.25" y1="150" x2="762.5" y2="150" stroke="#fff" stroke-width="0.5"/><line x1="762.5" y1="152.12" x2="771.25" y2="152.12" stroke="#E8A84C" stroke-width="0.9"/><line x1="767.5" y1="153.62" x2="773.75" y2="153.62" stroke="#fff" stroke-width="0.5"/><line x1="763.75" y1="155" x2="772.5" y2="155" stroke="#1E7A3C" stroke-width="0.9"/><line x1="768.75" y1="156.5" x2="775" y2="156.5" stroke="#fff" stroke-width="0.5"/><line x1="763.75" y1="158.12" x2="772.5" y2="158.12" stroke="#E8A84C" stroke-width="0.9"/><line x1="768.75" y1="159.62" x2="775" y2="159.62" stroke="#fff" stroke-width="0.5"/><line x1="765" y1="161.25" x2="773.75" y2="161.25" stroke="#1E7A3C" stroke-width="0.9"/><line x1="770" y1="162.75" x2="776.25" y2="162.75" stroke="#fff" stroke-width="0.5"/><line x1="766.88" y1="164.62" x2="773.75" y2="164.62" stroke="#E8A84C" stroke-width="0.9"/><line x1="771.88" y1="166.12" x2="776.25" y2="166.12" stroke="#fff" stroke-width="0.5"/><line x1="767.5" y1="167.5" x2="775" y2="167.5" stroke="#1E7A3C" stroke-width="0.9"/><line x1="772.5" y1="169" x2="777.5" y2="169" stroke="#fff" stroke-width="0.5"/><ellipse cx="0" cy="0" rx="2.6" ry="0.85" fill="#1E7A3C" transform="translate(743.50,135.36) rotate(290.0) rotate(-38) translate(2.2,0)"/><ellipse cx="0" cy="0" rx="2.6" ry="0.85" fill="#1E7A3C" transform="translate(743.50,135.36) rotate(290.0) rotate(38) translate(2.2,0)"/><ellipse cx="0" cy="0" rx="2.6" ry="0.85" fill="#1E7A3C" transform="translate(742.13,140.71) rotate(278.8) rotate(-38) translate(2.2,0)"/><ellipse cx="0" cy="0" rx="2.6" ry="0.85" fill="#1E7A3C" transform="translate(742.13,140.71) rotate(278.8) rotate(38) translate(2.2,0)"/><ellipse cx="0" cy="0" rx="2.6" ry="0.85" fill="#1E7A3C" transform="translate(741.83,146.23) rotate(267.5) rotate(-38) translate(2.2,0)"/><ellipse cx="0" cy="0" rx="2.6" ry="0.85" fill="#1E7A3C" transform="translate(741.83,146.23) rotate(267.5) rotate(38) translate(2.2,0)"/><ellipse cx="0" cy="0" rx="2.6" ry="0.85" fill="#1E7A3C" transform="translate(742.61,151.70) rotate(256.2) rotate(-38) translate(2.2,0)"/><ellipse cx="0" cy="0" rx="2.6" ry="0.85" fill="#1E7A3C" transform="translate(742.61,151.70) rotate(256.2) rotate(38) translate(2.2,0)"/><ellipse cx="0" cy="0" rx="2.6" ry="0.85" fill="#1E7A3C" transform="translate(744.44,156.92) rotate(245.0) rotate(-38) translate(2.2,0)"/><ellipse cx="0" cy="0" rx="2.6" ry="0.85" fill="#1E7A3C" transform="translate(744.44,156.92) rotate(245.0) rotate(38) translate(2.2,0)"/><ellipse cx="0" cy="0" rx="2.6" ry="0.85" fill="#1E7A3C" transform="translate(747.26,161.67) rotate(233.8) rotate(-38) translate(2.2,0)"/><ellipse cx="0" cy="0" rx="2.6" ry="0.85" fill="#1E7A3C" transform="translate(747.26,161.67) rotate(233.8) rotate(38) translate(2.2,0)"/><ellipse cx="0" cy="0" rx="2.6" ry="0.85" fill="#1E7A3C" transform="translate(750.95,165.79) rotate(222.5) rotate(-38) translate(2.2,0)"/><ellipse cx="0" cy="0" rx="2.6" ry="0.85" fill="#1E7A3C" transform="translate(750.95,165.79) rotate(222.5) rotate(38) translate(2.2,0)"/><ellipse cx="0" cy="0" rx="2.6" ry="0.85" fill="#1E7A3C" transform="translate(755.37,169.11) rotate(211.2) rotate(-38) translate(2.2,0)"/><ellipse cx="0" cy="0" rx="2.6" ry="0.85" fill="#1E7A3C" transform="translate(755.37,169.11) rotate(211.2) rotate(38) translate(2.2,0)"/><ellipse cx="0" cy="0" rx="2.6" ry="0.85" fill="#1E7A3C" transform="translate(760.36,171.50) rotate(200.0) rotate(-38) translate(2.2,0)"/><ellipse cx="0" cy="0" rx="2.6" ry="0.85" fill="#1E7A3C" transform="translate(760.36,171.50) rotate(200.0) rotate(38) translate(2.2,0)"/><ellipse cx="0" cy="0" rx="2.6" ry="0.85" fill="#1E7A3C" transform="translate(796.50,135.36) rotate(-110.0) rotate(-38) translate(2.2,0)"/><ellipse cx="0" cy="0" rx="2.6" ry="0.85" fill="#1E7A3C" transform="translate(796.50,135.36) rotate(-110.0) rotate(38) translate(2.2,0)"/><ellipse cx="0" cy="0" rx="2.6" ry="0.85" fill="#1E7A3C" transform="translate(797.87,140.71) rotate(-98.8) rotate(-38) translate(2.2,0)"/><ellipse cx="0" cy="0" rx="2.6" ry="0.85" fill="#1E7A3C" transform="translate(797.87,140.71) rotate(-98.8) rotate(38) translate(2.2,0)"/><ellipse cx="0" cy="0" rx="2.6" ry="0.85" fill="#1E7A3C" transform="translate(798.17,146.23) rotate(-87.5) rotate(-38) translate(2.2,0)"/><ellipse cx="0" cy="0" rx="2.6" ry="0.85" fill="#1E7A3C" transform="translate(798.17,146.23) rotate(-87.5) rotate(38) translate(2.2,0)"/><ellipse cx="0" cy="0" rx="2.6" ry="0.85" fill="#1E7A3C" transform="translate(797.39,151.70) rotate(-76.2) rotate(-38) translate(2.2,0)"/><ellipse cx="0" cy="0" rx="2.6" ry="0.85" fill="#1E7A3C" transform="translate(797.39,151.70) rotate(-76.2) rotate(38) translate(2.2,0)"/><ellipse cx="0" cy="0" rx="2.6" ry="0.85" fill="#1E7A3C" transform="translate(795.56,156.92) rotate(-65.0) rotate(-38) translate(2.2,0)"/><ellipse cx="0" cy="0" rx="2.6" ry="0.85" fill="#1E7A3C" transform="translate(795.56,156.92) rotate(-65.0) rotate(38) translate(2.2,0)"/><ellipse cx="0" cy="0" rx="2.6" ry="0.85" fill="#1E7A3C" transform="translate(792.74,161.67) rotate(-53.8) rotate(-38) translate(2.2,0)"/><ellipse cx="0" cy="0" rx="2.6" ry="0.85" fill="#1E7A3C" transform="translate(792.74,161.67) rotate(-53.8) rotate(38) translate(2.2,0)"/><ellipse cx="0" cy="0" rx="2.6" ry="0.85" fill="#1E7A3C" transform="translate(789.05,165.79) rotate(-42.5) rotate(-38) translate(2.2,0)"/><ellipse cx="0" cy="0" rx="2.6" ry="0.85" fill="#1E7A3C" transform="translate(789.05,165.79) rotate(-42.5) rotate(38) translate(2.2,0)"/><ellipse cx="0" cy="0" rx="2.6" ry="0.85" fill="#1E7A3C" transform="translate(784.63,169.11) rotate(-31.2) rotate(-38) translate(2.2,0)"/><ellipse cx="0" cy="0" rx="2.6" ry="0.85" fill="#1E7A3C" transform="translate(784.63,169.11) rotate(-31.2) rotate(38) translate(2.2,0)"/><ellipse cx="0" cy="0" rx="2.6" ry="0.85" fill="#1E7A3C" transform="translate(779.64,171.50) rotate(-20.0) rotate(-38) translate(2.2,0)"/><ellipse cx="0" cy="0" rx="2.6" ry="0.85" fill="#1E7A3C" transform="translate(779.64,171.50) rotate(-20.0) rotate(38) translate(2.2,0)"/><polygon fill="#1E7A3C" points="733.12,145.55 733.65,147.02 735.21,147.07 733.98,148.03 734.41,149.53 733.12,148.65 731.83,149.53 732.26,148.03 731.03,147.07 732.59,147.02"/><polygon fill="#1E7A3C" points="806.50,145.55 807.03,147.02 808.59,147.07 807.36,148.03 807.79,149.53 806.50,148.65 805.21,149.53 805.64,148.03 804.41,147.07 805.97,147.02"/><path d="M765,173.12 L775,177.5 M775,173.12 L765,177.5" stroke="#1E7A3C" stroke-width="0.3" fill="none"/></g>
</svg></body></html>
